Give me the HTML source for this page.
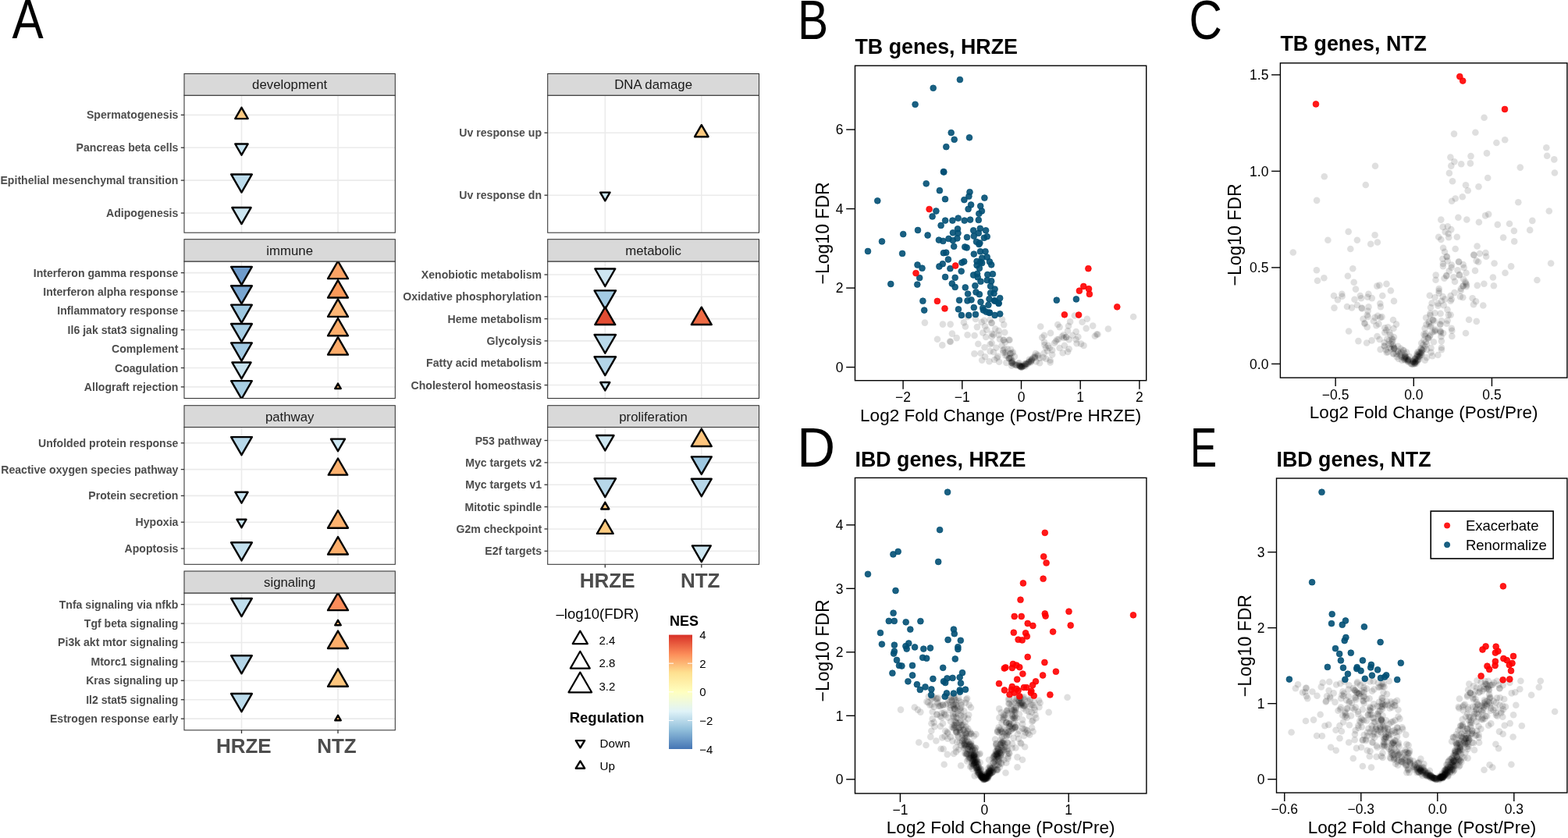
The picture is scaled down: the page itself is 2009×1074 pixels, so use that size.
<!DOCTYPE html>
<html><head><meta charset="utf-8"><title>Figure</title>
<style>html,body{margin:0;padding:0;background:#fff;}svg{display:block;}</style></head>
<body><svg width="2009" height="1074" viewBox="0 0 2009 1074">
<rect width="2009" height="1074" fill="#fff"/>
<g font-family="'Liberation Sans', Arial, Helvetica, sans-serif">
<clipPath id="cp1"><rect x="236" y="122.2" width="270.3" height="176"/></clipPath>
<rect x="236" y="122.2" width="270.3" height="176" fill="#fff"/>
<line x1="236" x2="506.3" y1="147.34" y2="147.34" stroke="#ebebeb" stroke-width="1.6"/>
<line x1="236" x2="506.3" y1="189.25" y2="189.25" stroke="#ebebeb" stroke-width="1.6"/>
<line x1="236" x2="506.3" y1="231.15" y2="231.15" stroke="#ebebeb" stroke-width="1.6"/>
<line x1="236" x2="506.3" y1="273.06" y2="273.06" stroke="#ebebeb" stroke-width="1.6"/>
<line x1="309.5" x2="309.5" y1="122.2" y2="298.2" stroke="#ebebeb" stroke-width="1.6"/>
<line x1="433" x2="433" y1="122.2" y2="298.2" stroke="#ebebeb" stroke-width="1.6"/>
<g clip-path="url(#cp1)" stroke="#000" stroke-width="2.4" stroke-linejoin="round">
<polygon points="309.5,137.87 317.7,152.08 301.3,152.08" fill="#fdc981"/>
<polygon points="309.5,198.72 317.7,184.51 301.3,184.51" fill="#c6e2ef"/>
<polygon points="309.5,246.57 322.85,223.44 296.15,223.44" fill="#bcdcec"/>
<polygon points="309.5,287.03 321.6,266.07 297.4,266.07" fill="#cde6f1"/>
</g>
<rect x="236" y="122.2" width="270.3" height="176" fill="none" stroke="#333" stroke-width="1.05"/>
<rect x="236" y="94.5" width="270.3" height="27.7" fill="#d9d9d9" stroke="#333" stroke-width="1.05"/>
<text x="371.15" y="114.35" font-size="16.8" text-anchor="middle" font-weight="normal" fill="#1a1a1a">development</text>
<line x1="231.8" x2="236" y1="147.34" y2="147.34" stroke="#333" stroke-width="1.3"/>
<text x="228.4" y="152.34" font-size="14.1" text-anchor="end" font-weight="bold" fill="#4d4d4d">Spermatogenesis</text>
<line x1="231.8" x2="236" y1="189.25" y2="189.25" stroke="#333" stroke-width="1.3"/>
<text x="228.4" y="194.25" font-size="14.1" text-anchor="end" font-weight="bold" fill="#4d4d4d">Pancreas beta cells</text>
<line x1="231.8" x2="236" y1="231.15" y2="231.15" stroke="#333" stroke-width="1.3"/>
<text x="228.4" y="236.15" font-size="14.1" text-anchor="end" font-weight="bold" fill="#4d4d4d">Epithelial mesenchymal transition</text>
<line x1="231.8" x2="236" y1="273.06" y2="273.06" stroke="#333" stroke-width="1.3"/>
<text x="228.4" y="278.06" font-size="14.1" text-anchor="end" font-weight="bold" fill="#4d4d4d">Adipogenesis</text>
<clipPath id="cp2"><rect x="236" y="335" width="270.3" height="175.5"/></clipPath>
<rect x="236" y="335" width="270.3" height="175.5" fill="#fff"/>
<line x1="236" x2="506.3" y1="349.62" y2="349.62" stroke="#ebebeb" stroke-width="1.6"/>
<line x1="236" x2="506.3" y1="374" y2="374" stroke="#ebebeb" stroke-width="1.6"/>
<line x1="236" x2="506.3" y1="398.38" y2="398.38" stroke="#ebebeb" stroke-width="1.6"/>
<line x1="236" x2="506.3" y1="422.75" y2="422.75" stroke="#ebebeb" stroke-width="1.6"/>
<line x1="236" x2="506.3" y1="447.12" y2="447.12" stroke="#ebebeb" stroke-width="1.6"/>
<line x1="236" x2="506.3" y1="471.5" y2="471.5" stroke="#ebebeb" stroke-width="1.6"/>
<line x1="236" x2="506.3" y1="495.88" y2="495.88" stroke="#ebebeb" stroke-width="1.6"/>
<line x1="309.5" x2="309.5" y1="335" y2="510.5" stroke="#ebebeb" stroke-width="1.6"/>
<line x1="433" x2="433" y1="335" y2="510.5" stroke="#ebebeb" stroke-width="1.6"/>
<g clip-path="url(#cp2)" stroke="#000" stroke-width="2.4" stroke-linejoin="round">
<polygon points="309.5,365.04 322.85,341.92 296.15,341.92" fill="#6e9bcb"/>
<polygon points="433,334.67 445.95,357.1 420.05,357.1" fill="#fda365"/>
<polygon points="309.5,389.41 322.85,366.29 296.15,366.29" fill="#78a5d0"/>
<polygon points="433,359.05 445.95,381.48 420.05,381.48" fill="#fc9a5a"/>
<polygon points="309.5,413.79 322.85,390.67 296.15,390.67" fill="#9dc7e0"/>
<polygon points="433,383.42 445.95,405.85 420.05,405.85" fill="#fdb676"/>
<polygon points="309.5,438.16 322.85,415.04 296.15,415.04" fill="#a6cde3"/>
<polygon points="433,407.8 445.95,430.23 420.05,430.23" fill="#fdae6c"/>
<polygon points="309.5,462.54 322.85,439.42 296.15,439.42" fill="#a1c9e2"/>
<polygon points="433,432.17 445.95,454.6 420.05,454.6" fill="#fdac6a"/>
<polygon points="309.5,485.47 321.6,464.51 297.4,464.51" fill="#c7e2ee"/>
<polygon points="309.5,511.29 322.85,488.17 296.15,488.17" fill="#a8cfe4"/>
<polygon points="433,491.55 436.75,498.04 429.25,498.04" fill="#fdbb74"/>
</g>
<rect x="236" y="335" width="270.3" height="175.5" fill="none" stroke="#333" stroke-width="1.05"/>
<rect x="236" y="306.7" width="270.3" height="28.3" fill="#d9d9d9" stroke="#333" stroke-width="1.05"/>
<text x="371.15" y="326.85" font-size="16.8" text-anchor="middle" font-weight="normal" fill="#1a1a1a">immune</text>
<line x1="231.8" x2="236" y1="349.62" y2="349.62" stroke="#333" stroke-width="1.3"/>
<text x="228.4" y="354.62" font-size="14.1" text-anchor="end" font-weight="bold" fill="#4d4d4d">Interferon gamma response</text>
<line x1="231.8" x2="236" y1="374" y2="374" stroke="#333" stroke-width="1.3"/>
<text x="228.4" y="379" font-size="14.1" text-anchor="end" font-weight="bold" fill="#4d4d4d">Interferon alpha response</text>
<line x1="231.8" x2="236" y1="398.38" y2="398.38" stroke="#333" stroke-width="1.3"/>
<text x="228.4" y="403.38" font-size="14.1" text-anchor="end" font-weight="bold" fill="#4d4d4d">Inflammatory response</text>
<line x1="231.8" x2="236" y1="422.75" y2="422.75" stroke="#333" stroke-width="1.3"/>
<text x="228.4" y="427.75" font-size="14.1" text-anchor="end" font-weight="bold" fill="#4d4d4d">Il6 jak stat3 signaling</text>
<line x1="231.8" x2="236" y1="447.12" y2="447.12" stroke="#333" stroke-width="1.3"/>
<text x="228.4" y="452.12" font-size="14.1" text-anchor="end" font-weight="bold" fill="#4d4d4d">Complement</text>
<line x1="231.8" x2="236" y1="471.5" y2="471.5" stroke="#333" stroke-width="1.3"/>
<text x="228.4" y="476.5" font-size="14.1" text-anchor="end" font-weight="bold" fill="#4d4d4d">Coagulation</text>
<line x1="231.8" x2="236" y1="495.88" y2="495.88" stroke="#333" stroke-width="1.3"/>
<text x="228.4" y="500.88" font-size="14.1" text-anchor="end" font-weight="bold" fill="#4d4d4d">Allograft rejection</text>
<clipPath id="cp3"><rect x="236" y="547.5" width="270.3" height="175.8"/></clipPath>
<rect x="236" y="547.5" width="270.3" height="175.8" fill="#fff"/>
<line x1="236" x2="506.3" y1="567.78" y2="567.78" stroke="#ebebeb" stroke-width="1.6"/>
<line x1="236" x2="506.3" y1="601.59" y2="601.59" stroke="#ebebeb" stroke-width="1.6"/>
<line x1="236" x2="506.3" y1="635.4" y2="635.4" stroke="#ebebeb" stroke-width="1.6"/>
<line x1="236" x2="506.3" y1="669.21" y2="669.21" stroke="#ebebeb" stroke-width="1.6"/>
<line x1="236" x2="506.3" y1="703.02" y2="703.02" stroke="#ebebeb" stroke-width="1.6"/>
<line x1="309.5" x2="309.5" y1="547.5" y2="723.3" stroke="#ebebeb" stroke-width="1.6"/>
<line x1="433" x2="433" y1="547.5" y2="723.3" stroke="#ebebeb" stroke-width="1.6"/>
<g clip-path="url(#cp3)" stroke="#000" stroke-width="2.4" stroke-linejoin="round">
<polygon points="309.5,583.2 322.85,560.08 296.15,560.08" fill="#b8d9ea"/>
<polygon points="433,578.18 442,562.59 424,562.59" fill="#cce6f1"/>
<polygon points="433,587.51 445.2,608.64 420.8,608.64" fill="#fdb26f"/>
<polygon points="309.5,644.75 317.6,630.72 301.4,630.72" fill="#c6e2ef"/>
<polygon points="309.5,676.14 315.5,665.74 303.5,665.74" fill="#c9e4f0"/>
<polygon points="433,654.25 445.95,676.68 420.05,676.68" fill="#fdb26f"/>
<polygon points="309.5,718.43 322.85,695.31 296.15,695.31" fill="#c3e0ee"/>
<polygon points="433,688.06 445.95,710.49 420.05,710.49" fill="#fdae6b"/>
</g>
<rect x="236" y="547.5" width="270.3" height="175.8" fill="none" stroke="#333" stroke-width="1.05"/>
<rect x="236" y="519.7" width="270.3" height="27.8" fill="#d9d9d9" stroke="#333" stroke-width="1.05"/>
<text x="371.15" y="539.6" font-size="16.8" text-anchor="middle" font-weight="normal" fill="#1a1a1a">pathway</text>
<line x1="231.8" x2="236" y1="567.78" y2="567.78" stroke="#333" stroke-width="1.3"/>
<text x="228.4" y="572.78" font-size="14.1" text-anchor="end" font-weight="bold" fill="#4d4d4d">Unfolded protein response</text>
<line x1="231.8" x2="236" y1="601.59" y2="601.59" stroke="#333" stroke-width="1.3"/>
<text x="228.4" y="606.59" font-size="14.1" text-anchor="end" font-weight="bold" fill="#4d4d4d">Reactive oxygen species pathway</text>
<line x1="231.8" x2="236" y1="635.4" y2="635.4" stroke="#333" stroke-width="1.3"/>
<text x="228.4" y="640.4" font-size="14.1" text-anchor="end" font-weight="bold" fill="#4d4d4d">Protein secretion</text>
<line x1="231.8" x2="236" y1="669.21" y2="669.21" stroke="#333" stroke-width="1.3"/>
<text x="228.4" y="674.21" font-size="14.1" text-anchor="end" font-weight="bold" fill="#4d4d4d">Hypoxia</text>
<line x1="231.8" x2="236" y1="703.02" y2="703.02" stroke="#333" stroke-width="1.3"/>
<text x="228.4" y="708.02" font-size="14.1" text-anchor="end" font-weight="bold" fill="#4d4d4d">Apoptosis</text>
<clipPath id="cp4"><rect x="236" y="760" width="270.3" height="175.8"/></clipPath>
<rect x="236" y="760" width="270.3" height="175.8" fill="#fff"/>
<line x1="236" x2="506.3" y1="774.65" y2="774.65" stroke="#ebebeb" stroke-width="1.6"/>
<line x1="236" x2="506.3" y1="799.07" y2="799.07" stroke="#ebebeb" stroke-width="1.6"/>
<line x1="236" x2="506.3" y1="823.48" y2="823.48" stroke="#ebebeb" stroke-width="1.6"/>
<line x1="236" x2="506.3" y1="847.9" y2="847.9" stroke="#ebebeb" stroke-width="1.6"/>
<line x1="236" x2="506.3" y1="872.32" y2="872.32" stroke="#ebebeb" stroke-width="1.6"/>
<line x1="236" x2="506.3" y1="896.73" y2="896.73" stroke="#ebebeb" stroke-width="1.6"/>
<line x1="236" x2="506.3" y1="921.15" y2="921.15" stroke="#ebebeb" stroke-width="1.6"/>
<line x1="309.5" x2="309.5" y1="760" y2="935.8" stroke="#ebebeb" stroke-width="1.6"/>
<line x1="433" x2="433" y1="760" y2="935.8" stroke="#ebebeb" stroke-width="1.6"/>
<g clip-path="url(#cp4)" stroke="#000" stroke-width="2.4" stroke-linejoin="round">
<polygon points="309.5,790.06 322.85,766.94 296.15,766.94" fill="#c0dfee"/>
<polygon points="433,759.7 445.95,782.13 420.05,782.13" fill="#fb8c5a"/>
<polygon points="433,794.74 436.75,801.23 429.25,801.23" fill="#fdb96f"/>
<polygon points="433,808.53 445.95,830.96 420.05,830.96" fill="#fdae6b"/>
<polygon points="309.5,863.31 322.85,840.19 296.15,840.19" fill="#b3d5e8"/>
<polygon points="433,857.36 445.95,879.79 420.05,879.79" fill="#fdc67e"/>
<polygon points="309.5,912.15 322.85,889.03 296.15,889.03" fill="#bcdcec"/>
<polygon points="433,916.82 436.75,923.32 429.25,923.32" fill="#fdbb74"/>
</g>
<rect x="236" y="760" width="270.3" height="175.8" fill="none" stroke="#333" stroke-width="1.05"/>
<rect x="236" y="732" width="270.3" height="28" fill="#d9d9d9" stroke="#333" stroke-width="1.05"/>
<text x="371.15" y="752" font-size="16.8" text-anchor="middle" font-weight="normal" fill="#1a1a1a">signaling</text>
<line x1="231.8" x2="236" y1="774.65" y2="774.65" stroke="#333" stroke-width="1.3"/>
<text x="228.4" y="779.65" font-size="14.1" text-anchor="end" font-weight="bold" fill="#4d4d4d">Tnfa signaling via nfkb</text>
<line x1="231.8" x2="236" y1="799.07" y2="799.07" stroke="#333" stroke-width="1.3"/>
<text x="228.4" y="804.07" font-size="14.1" text-anchor="end" font-weight="bold" fill="#4d4d4d">Tgf beta signaling</text>
<line x1="231.8" x2="236" y1="823.48" y2="823.48" stroke="#333" stroke-width="1.3"/>
<text x="228.4" y="828.48" font-size="14.1" text-anchor="end" font-weight="bold" fill="#4d4d4d">Pi3k akt mtor signaling</text>
<line x1="231.8" x2="236" y1="847.9" y2="847.9" stroke="#333" stroke-width="1.3"/>
<text x="228.4" y="852.9" font-size="14.1" text-anchor="end" font-weight="bold" fill="#4d4d4d">Mtorc1 signaling</text>
<line x1="231.8" x2="236" y1="872.32" y2="872.32" stroke="#333" stroke-width="1.3"/>
<text x="228.4" y="877.32" font-size="14.1" text-anchor="end" font-weight="bold" fill="#4d4d4d">Kras signaling up</text>
<line x1="231.8" x2="236" y1="896.73" y2="896.73" stroke="#333" stroke-width="1.3"/>
<text x="228.4" y="901.73" font-size="14.1" text-anchor="end" font-weight="bold" fill="#4d4d4d">Il2 stat5 signaling</text>
<line x1="231.8" x2="236" y1="921.15" y2="921.15" stroke="#333" stroke-width="1.3"/>
<text x="228.4" y="926.15" font-size="14.1" text-anchor="end" font-weight="bold" fill="#4d4d4d">Estrogen response early</text>
<line x1="309.5" x2="309.5" y1="935.8" y2="940" stroke="#333" stroke-width="1.3"/>
<text x="312.3" y="965.3" font-size="26" text-anchor="middle" font-weight="bold" fill="#4d4d4d">HRZE</text>
<line x1="433" x2="433" y1="935.8" y2="940" stroke="#333" stroke-width="1.3"/>
<text x="431.4" y="965.3" font-size="26" text-anchor="middle" font-weight="bold" fill="#4d4d4d">NTZ</text>
<clipPath id="cp5"><rect x="701.7" y="122.2" width="270.8" height="176"/></clipPath>
<rect x="701.7" y="122.2" width="270.8" height="176" fill="#fff"/>
<line x1="701.7" x2="972.5" y1="170.2" y2="170.2" stroke="#ebebeb" stroke-width="1.6"/>
<line x1="701.7" x2="972.5" y1="250.2" y2="250.2" stroke="#ebebeb" stroke-width="1.6"/>
<line x1="775.3" x2="775.3" y1="122.2" y2="298.2" stroke="#ebebeb" stroke-width="1.6"/>
<line x1="898.8" x2="898.8" y1="122.2" y2="298.2" stroke="#ebebeb" stroke-width="1.6"/>
<g clip-path="url(#cp5)" stroke="#000" stroke-width="2.4" stroke-linejoin="round">
<polygon points="898.8,160.15 907.5,175.22 890.1,175.22" fill="#fdc97f"/>
<polygon points="775.3,257.36 781.5,246.62 769.1,246.62" fill="#cde8f2"/>
</g>
<rect x="701.7" y="122.2" width="270.8" height="176" fill="none" stroke="#333" stroke-width="1.05"/>
<rect x="701.7" y="94.5" width="270.8" height="27.7" fill="#d9d9d9" stroke="#333" stroke-width="1.05"/>
<text x="837.1" y="114.35" font-size="16.8" text-anchor="middle" font-weight="normal" fill="#1a1a1a">DNA damage</text>
<line x1="697.5" x2="701.7" y1="170.2" y2="170.2" stroke="#333" stroke-width="1.3"/>
<text x="694.1" y="175.2" font-size="14.1" text-anchor="end" font-weight="bold" fill="#4d4d4d">Uv response up</text>
<line x1="697.5" x2="701.7" y1="250.2" y2="250.2" stroke="#333" stroke-width="1.3"/>
<text x="694.1" y="255.2" font-size="14.1" text-anchor="end" font-weight="bold" fill="#4d4d4d">Uv response dn</text>
<clipPath id="cp6"><rect x="701.7" y="335" width="270.8" height="175.5"/></clipPath>
<rect x="701.7" y="335" width="270.8" height="175.5" fill="#fff"/>
<line x1="701.7" x2="972.5" y1="351.98" y2="351.98" stroke="#ebebeb" stroke-width="1.6"/>
<line x1="701.7" x2="972.5" y1="380.29" y2="380.29" stroke="#ebebeb" stroke-width="1.6"/>
<line x1="701.7" x2="972.5" y1="408.6" y2="408.6" stroke="#ebebeb" stroke-width="1.6"/>
<line x1="701.7" x2="972.5" y1="436.9" y2="436.9" stroke="#ebebeb" stroke-width="1.6"/>
<line x1="701.7" x2="972.5" y1="465.21" y2="465.21" stroke="#ebebeb" stroke-width="1.6"/>
<line x1="701.7" x2="972.5" y1="493.52" y2="493.52" stroke="#ebebeb" stroke-width="1.6"/>
<line x1="775.3" x2="775.3" y1="335" y2="510.5" stroke="#ebebeb" stroke-width="1.6"/>
<line x1="898.8" x2="898.8" y1="335" y2="510.5" stroke="#ebebeb" stroke-width="1.6"/>
<g clip-path="url(#cp6)" stroke="#000" stroke-width="2.4" stroke-linejoin="round">
<polygon points="775.3,366.94 788.25,344.51 762.35,344.51" fill="#cde5f1"/>
<polygon points="775.3,396.11 789,372.38 761.6,372.38" fill="#a3cbe3"/>
<polygon points="775.3,393.64 788.25,416.07 762.35,416.07" fill="#e34d33"/>
<polygon points="898.8,393.64 911.75,416.07 885.85,416.07" fill="#ee6b45"/>
<polygon points="775.3,452.72 789,428.99 761.6,428.99" fill="#b9d9ea"/>
<polygon points="775.3,481.03 789,457.3 761.6,457.3" fill="#b3d5e8"/>
<polygon points="775.3,500.44 781.3,490.05 769.3,490.05" fill="#cce6f1"/>
</g>
<rect x="701.7" y="335" width="270.8" height="175.5" fill="none" stroke="#333" stroke-width="1.05"/>
<rect x="701.7" y="306.7" width="270.8" height="28.3" fill="#d9d9d9" stroke="#333" stroke-width="1.05"/>
<text x="837.1" y="326.85" font-size="16.8" text-anchor="middle" font-weight="normal" fill="#1a1a1a">metabolic</text>
<line x1="697.5" x2="701.7" y1="351.98" y2="351.98" stroke="#333" stroke-width="1.3"/>
<text x="694.1" y="356.98" font-size="14.1" text-anchor="end" font-weight="bold" fill="#4d4d4d">Xenobiotic metabolism</text>
<line x1="697.5" x2="701.7" y1="380.29" y2="380.29" stroke="#333" stroke-width="1.3"/>
<text x="694.1" y="385.29" font-size="14.1" text-anchor="end" font-weight="bold" fill="#4d4d4d">Oxidative phosphorylation</text>
<line x1="697.5" x2="701.7" y1="408.6" y2="408.6" stroke="#333" stroke-width="1.3"/>
<text x="694.1" y="413.6" font-size="14.1" text-anchor="end" font-weight="bold" fill="#4d4d4d">Heme metabolism</text>
<line x1="697.5" x2="701.7" y1="436.9" y2="436.9" stroke="#333" stroke-width="1.3"/>
<text x="694.1" y="441.9" font-size="14.1" text-anchor="end" font-weight="bold" fill="#4d4d4d">Glycolysis</text>
<line x1="697.5" x2="701.7" y1="465.21" y2="465.21" stroke="#333" stroke-width="1.3"/>
<text x="694.1" y="470.21" font-size="14.1" text-anchor="end" font-weight="bold" fill="#4d4d4d">Fatty acid metabolism</text>
<line x1="697.5" x2="701.7" y1="493.52" y2="493.52" stroke="#333" stroke-width="1.3"/>
<text x="694.1" y="498.52" font-size="14.1" text-anchor="end" font-weight="bold" fill="#4d4d4d">Cholesterol homeostasis</text>
<clipPath id="cp7"><rect x="701.7" y="547.5" width="270.8" height="175.8"/></clipPath>
<rect x="701.7" y="547.5" width="270.8" height="175.8" fill="#fff"/>
<line x1="701.7" x2="972.5" y1="564.51" y2="564.51" stroke="#ebebeb" stroke-width="1.6"/>
<line x1="701.7" x2="972.5" y1="592.87" y2="592.87" stroke="#ebebeb" stroke-width="1.6"/>
<line x1="701.7" x2="972.5" y1="621.22" y2="621.22" stroke="#ebebeb" stroke-width="1.6"/>
<line x1="701.7" x2="972.5" y1="649.58" y2="649.58" stroke="#ebebeb" stroke-width="1.6"/>
<line x1="701.7" x2="972.5" y1="677.93" y2="677.93" stroke="#ebebeb" stroke-width="1.6"/>
<line x1="701.7" x2="972.5" y1="706.29" y2="706.29" stroke="#ebebeb" stroke-width="1.6"/>
<line x1="775.3" x2="775.3" y1="547.5" y2="723.3" stroke="#ebebeb" stroke-width="1.6"/>
<line x1="898.8" x2="898.8" y1="547.5" y2="723.3" stroke="#ebebeb" stroke-width="1.6"/>
<g clip-path="url(#cp7)" stroke="#000" stroke-width="2.4" stroke-linejoin="round">
<polygon points="775.3,577.45 786.5,558.05 764.1,558.05" fill="#cde6f1"/>
<polygon points="898.8,549.56 911.75,571.99 885.85,571.99" fill="#fec57d"/>
<polygon points="898.8,607.82 911.75,585.39 885.85,585.39" fill="#9ec8e1"/>
<polygon points="775.3,637.04 789,613.31 761.6,613.31" fill="#b7d7e9"/>
<polygon points="898.8,636.18 911.75,613.75 885.85,613.75" fill="#b6d7e9"/>
<polygon points="775.3,643.8 780.3,652.46 770.3,652.46" fill="#fdc97f"/>
<polygon points="775.3,665.98 785.65,683.91 764.95,683.91" fill="#fecb80"/>
<polygon points="898.8,720.09 910.75,699.39 886.85,699.39" fill="#cde6f1"/>
</g>
<rect x="701.7" y="547.5" width="270.8" height="175.8" fill="none" stroke="#333" stroke-width="1.05"/>
<rect x="701.7" y="519.7" width="270.8" height="27.8" fill="#d9d9d9" stroke="#333" stroke-width="1.05"/>
<text x="837.1" y="539.6" font-size="16.8" text-anchor="middle" font-weight="normal" fill="#1a1a1a">proliferation</text>
<line x1="697.5" x2="701.7" y1="564.51" y2="564.51" stroke="#333" stroke-width="1.3"/>
<text x="694.1" y="569.51" font-size="14.1" text-anchor="end" font-weight="bold" fill="#4d4d4d">P53 pathway</text>
<line x1="697.5" x2="701.7" y1="592.87" y2="592.87" stroke="#333" stroke-width="1.3"/>
<text x="694.1" y="597.87" font-size="14.1" text-anchor="end" font-weight="bold" fill="#4d4d4d">Myc targets v2</text>
<line x1="697.5" x2="701.7" y1="621.22" y2="621.22" stroke="#333" stroke-width="1.3"/>
<text x="694.1" y="626.22" font-size="14.1" text-anchor="end" font-weight="bold" fill="#4d4d4d">Myc targets v1</text>
<line x1="697.5" x2="701.7" y1="649.58" y2="649.58" stroke="#333" stroke-width="1.3"/>
<text x="694.1" y="654.58" font-size="14.1" text-anchor="end" font-weight="bold" fill="#4d4d4d">Mitotic spindle</text>
<line x1="697.5" x2="701.7" y1="677.93" y2="677.93" stroke="#333" stroke-width="1.3"/>
<text x="694.1" y="682.93" font-size="14.1" text-anchor="end" font-weight="bold" fill="#4d4d4d">G2m checkpoint</text>
<line x1="697.5" x2="701.7" y1="706.29" y2="706.29" stroke="#333" stroke-width="1.3"/>
<text x="694.1" y="711.29" font-size="14.1" text-anchor="end" font-weight="bold" fill="#4d4d4d">E2f targets</text>
<line x1="775.3" x2="775.3" y1="723.3" y2="727.5" stroke="#333" stroke-width="1.3"/>
<text x="778.1" y="752.8" font-size="26" text-anchor="middle" font-weight="bold" fill="#4d4d4d">HRZE</text>
<line x1="898.8" x2="898.8" y1="723.3" y2="727.5" stroke="#333" stroke-width="1.3"/>
<text x="897.2" y="752.8" font-size="26" text-anchor="middle" font-weight="bold" fill="#4d4d4d">NTZ</text>
<text x="712.5" y="793.3" font-size="18.5" text-anchor="start" font-weight="normal" fill="#000">&#8211;log10(FDR)</text>
<polygon points="743.3,808.6 752.9,825.1 733.7,825.1" fill="none" stroke="#000" stroke-width="2.2" stroke-linejoin="round"/>
<text x="767.5" y="825.6" font-size="15" text-anchor="start" font-weight="normal" fill="#000">2.4</text>
<polygon points="743.3,834.8 755.8,856.6 730.8,856.6" fill="none" stroke="#000" stroke-width="2.2" stroke-linejoin="round"/>
<text x="767.5" y="854.9" font-size="15" text-anchor="start" font-weight="normal" fill="#000">2.8</text>
<polygon points="743.3,861.6 758.1,887.3 728.5,887.3" fill="none" stroke="#000" stroke-width="2.2" stroke-linejoin="round"/>
<text x="767.5" y="884.5" font-size="15" text-anchor="start" font-weight="normal" fill="#000">3.2</text>
<text x="729.7" y="925.8" font-size="18.5" text-anchor="start" font-weight="bold" fill="#000">Regulation</text>
<polygon points="743.45,958.3 749.1,949.1 737.8,949.1" fill="none" stroke="#000" stroke-width="2.4" stroke-linejoin="round"/>
<text x="768.5" y="957.9" font-size="15.2" text-anchor="start" font-weight="normal" fill="#000">Down</text>
<polygon points="743.45,975.4 749.1,984.7 737.8,984.7" fill="none" stroke="#000" stroke-width="2.4" stroke-linejoin="round"/>
<text x="768.5" y="986.9" font-size="15.2" text-anchor="start" font-weight="normal" fill="#000">Up</text>
<text x="858" y="801.7" font-size="18" text-anchor="start" font-weight="bold" fill="#000">NES</text>
<defs><linearGradient id="nes" x1="0" y1="1" x2="0" y2="0">
<stop offset="0" stop-color="#4575b4"/>
<stop offset="0.17" stop-color="#91bfdb"/>
<stop offset="0.33" stop-color="#e0f3f8"/>
<stop offset="0.5" stop-color="#ffffbf"/>
<stop offset="0.67" stop-color="#fee090"/>
<stop offset="0.83" stop-color="#fc8d59"/>
<stop offset="1" stop-color="#d73027"/>
</linearGradient></defs>
<rect x="857" y="813.6" width="30" height="146.4" fill="url(#nes)"/>
<text x="896.3" y="819.1" font-size="15" text-anchor="start" font-weight="normal" fill="#000">4</text>
<line x1="857" x2="863" y1="850.2" y2="850.2" stroke="#fff" stroke-width="1"/>
<line x1="881" x2="887" y1="850.2" y2="850.2" stroke="#fff" stroke-width="1"/>
<text x="896.3" y="855.7" font-size="15" text-anchor="start" font-weight="normal" fill="#000">2</text>
<line x1="857" x2="863" y1="886.8" y2="886.8" stroke="#fff" stroke-width="1"/>
<line x1="881" x2="887" y1="886.8" y2="886.8" stroke="#fff" stroke-width="1"/>
<text x="896.3" y="892.3" font-size="15" text-anchor="start" font-weight="normal" fill="#000">0</text>
<line x1="857" x2="863" y1="923.4" y2="923.4" stroke="#fff" stroke-width="1"/>
<line x1="881" x2="887" y1="923.4" y2="923.4" stroke="#fff" stroke-width="1"/>
<text x="896.3" y="928.9" font-size="15" text-anchor="start" font-weight="normal" fill="#000">&#8722;2</text>
<text x="896.3" y="965.5" font-size="15" text-anchor="start" font-weight="normal" fill="#000">&#8722;4</text>
</g>
<text x="0" y="0" font-size="69.8" font-family="'Liberation Sans', Arial, Helvetica, sans-serif" transform="translate(15.6 49.4) scale(0.863 1)">A</text>
<text x="0" y="0" font-size="70.6" font-family="'Liberation Sans', Arial, Helvetica, sans-serif" transform="translate(1022 49.7) scale(0.832 1)">B</text>
<text x="0" y="0" font-size="69.5" font-family="'Liberation Sans', Arial, Helvetica, sans-serif" transform="translate(1523.4 49.6) scale(0.844 1)">C</text>
<text x="0" y="0" font-size="69.9" font-family="'Liberation Sans', Arial, Helvetica, sans-serif" transform="translate(1021.3 597.9) scale(0.968 1)">D</text>
<text x="0" y="0" font-size="69.6" font-family="'Liberation Sans', Arial, Helvetica, sans-serif" transform="translate(1525 597.7) scale(0.735 1)">E</text>
<g font-family="'Liberation Sans', Arial, Helvetica, sans-serif">
<clipPath id="vpB"><rect x="1095.5" y="84.2" width="373.2" height="403.5"/></clipPath>
<g clip-path="url(#vpB)">
<g fill="#000" fill-opacity="0.125">
<circle cx="1184.9" cy="413.6" r="4.3"/>
<circle cx="1207.9" cy="415.6" r="4.3"/>
<circle cx="1217.7" cy="415.6" r="4.3"/>
<circle cx="1234.9" cy="413.4" r="4.3"/>
<circle cx="1236.9" cy="418.5" r="4.3"/>
<circle cx="1219.9" cy="427.6" r="4.3"/>
<circle cx="1225.7" cy="433.1" r="4.3"/>
<circle cx="1201" cy="434.8" r="4.3"/>
<circle cx="1217.2" cy="437.5" r="4.3"/>
<circle cx="1217.8" cy="438" r="4.3"/>
<circle cx="1207.3" cy="442.4" r="4.3"/>
<circle cx="1239.6" cy="429.3" r="4.3"/>
<circle cx="1248.6" cy="430" r="4.3"/>
<circle cx="1251.9" cy="419.1" r="4.3"/>
<circle cx="1250" cy="409" r="4.3"/>
<circle cx="1257.7" cy="412.9" r="4.3"/>
<circle cx="1261" cy="410.7" r="4.3"/>
<circle cx="1262.1" cy="418.3" r="4.3"/>
<circle cx="1259.3" cy="426.5" r="4.3"/>
<circle cx="1264.3" cy="422.7" r="4.3"/>
<circle cx="1263.2" cy="432" r="4.3"/>
<circle cx="1268.6" cy="409.6" r="4.3"/>
<circle cx="1270.8" cy="414" r="4.3"/>
<circle cx="1275.2" cy="421.6" r="4.3"/>
<circle cx="1279.6" cy="423.8" r="4.3"/>
<circle cx="1279.6" cy="429.3" r="4.3"/>
<circle cx="1270.8" cy="431.5" r="4.3"/>
<circle cx="1284" cy="409.6" r="4.3"/>
<circle cx="1286.2" cy="416.1" r="4.3"/>
<circle cx="1287.3" cy="426" r="4.3"/>
<circle cx="1286.2" cy="435.8" r="4.3"/>
<circle cx="1287.8" cy="438.6" r="4.3"/>
<circle cx="1292.7" cy="435.8" r="4.3"/>
<circle cx="1270.8" cy="439.7" r="4.3"/>
<circle cx="1268.6" cy="441.3" r="4.3"/>
<circle cx="1253.3" cy="440.8" r="4.3"/>
<circle cx="1261.5" cy="445.2" r="4.3"/>
<circle cx="1276.3" cy="445.7" r="4.3"/>
<circle cx="1268.6" cy="450.1" r="4.3"/>
<circle cx="1273" cy="451.2" r="4.3"/>
<circle cx="1285.1" cy="449" r="4.3"/>
<circle cx="1288.3" cy="455.6" r="4.3"/>
<circle cx="1294.4" cy="452.8" r="4.3"/>
<circle cx="1278.5" cy="456.7" r="4.3"/>
<circle cx="1277.4" cy="458.8" r="4.3"/>
<circle cx="1248.4" cy="453.4" r="4.3"/>
<circle cx="1256.6" cy="452.8" r="4.3"/>
<circle cx="1262.1" cy="457.2" r="4.3"/>
<circle cx="1258.2" cy="461.6" r="4.3"/>
<circle cx="1267.5" cy="463.2" r="4.3"/>
<circle cx="1274.1" cy="461" r="4.3"/>
<circle cx="1280.1" cy="463.8" r="4.3"/>
<circle cx="1289.4" cy="464.9" r="4.3"/>
<circle cx="1296" cy="464.9" r="4.3"/>
<circle cx="1297" cy="465.5" r="4.3"/>
<circle cx="1298" cy="466.5" r="4.3"/>
<circle cx="1300" cy="467" r="4.3"/>
<circle cx="1303" cy="468" r="4.3"/>
<circle cx="1305.9" cy="468.7" r="4.3"/>
<circle cx="1307" cy="469.5" r="4.3"/>
<circle cx="1309.2" cy="469.8" r="4.3"/>
<circle cx="1311" cy="469.3" r="4.3"/>
<circle cx="1313" cy="468" r="4.3"/>
<circle cx="1317.9" cy="464.3" r="4.3"/>
<circle cx="1376.9" cy="404.5" r="4.3"/>
<circle cx="1392.9" cy="408.8" r="4.3"/>
<circle cx="1452.2" cy="406" r="4.3"/>
<circle cx="1371.1" cy="412.4" r="4.3"/>
<circle cx="1386.6" cy="412.8" r="4.3"/>
<circle cx="1400.2" cy="417.6" r="4.3"/>
<circle cx="1419.9" cy="421.5" r="4.3"/>
<circle cx="1391.7" cy="420.9" r="4.3"/>
<circle cx="1355.2" cy="416" r="4.3"/>
<circle cx="1357.6" cy="419.1" r="4.3"/>
<circle cx="1369" cy="417.8" r="4.3"/>
<circle cx="1333.2" cy="418.5" r="4.3"/>
<circle cx="1368" cy="424" r="4.3"/>
<circle cx="1378.7" cy="425" r="4.3"/>
<circle cx="1405.1" cy="428.5" r="4.3"/>
<circle cx="1402.9" cy="430.8" r="4.3"/>
<circle cx="1406.5" cy="428.5" r="4.3"/>
<circle cx="1346" cy="426.9" r="4.3"/>
<circle cx="1337.9" cy="429.9" r="4.3"/>
<circle cx="1335.2" cy="432.6" r="4.3"/>
<circle cx="1362.6" cy="429.4" r="4.3"/>
<circle cx="1360.8" cy="431.2" r="4.3"/>
<circle cx="1366.2" cy="432.1" r="4.3"/>
<circle cx="1374.2" cy="429.9" r="4.3"/>
<circle cx="1381.4" cy="431.7" r="4.3"/>
<circle cx="1369.7" cy="435.2" r="4.3"/>
<circle cx="1378.7" cy="435.2" r="4.3"/>
<circle cx="1379.6" cy="440.2" r="4.3"/>
<circle cx="1385" cy="440.6" r="4.3"/>
<circle cx="1388.6" cy="442.9" r="4.3"/>
<circle cx="1356.3" cy="434.8" r="4.3"/>
<circle cx="1352.7" cy="437.5" r="4.3"/>
<circle cx="1350.9" cy="439.7" r="4.3"/>
<circle cx="1338.4" cy="442" r="4.3"/>
<circle cx="1342.9" cy="442.9" r="4.3"/>
<circle cx="1344.7" cy="446" r="4.3"/>
<circle cx="1348.2" cy="448.7" r="4.3"/>
<circle cx="1342" cy="449.6" r="4.3"/>
<circle cx="1357.6" cy="446" r="4.3"/>
<circle cx="1363.9" cy="442.9" r="4.3"/>
<circle cx="1369.7" cy="447.3" r="4.3"/>
<circle cx="1368" cy="450.9" r="4.3"/>
<circle cx="1361.7" cy="452.3" r="4.3"/>
<circle cx="1348.2" cy="454.5" r="4.3"/>
<circle cx="1293.6" cy="435.7" r="4.3"/>
<circle cx="1294.5" cy="453.2" r="4.3"/>
<circle cx="1290" cy="455.4" r="4.3"/>
<circle cx="1337.5" cy="452.7" r="4.3"/>
<circle cx="1329.4" cy="454.5" r="4.3"/>
<circle cx="1324" cy="458.1" r="4.3"/>
<circle cx="1318.7" cy="460.8" r="4.3"/>
<circle cx="1320.5" cy="464.4" r="4.3"/>
<circle cx="1316.9" cy="466.2" r="4.3"/>
<circle cx="1332.1" cy="459" r="4.3"/>
<circle cx="1336.6" cy="458.1" r="4.3"/>
<circle cx="1340.2" cy="459.9" r="4.3"/>
<circle cx="1345.6" cy="461.7" r="4.3"/>
<circle cx="1345.6" cy="464.4" r="4.3"/>
<circle cx="1332.1" cy="465.3" r="4.3"/>
<circle cx="1327.6" cy="463.5" r="4.3"/>
<circle cx="1296.3" cy="464.4" r="4.3"/>
<circle cx="1307" cy="468.8" r="4.3"/>
<circle cx="1308.8" cy="470.6" r="4.3"/>
<circle cx="1312.4" cy="468.8" r="4.3"/>
<circle cx="1322" cy="461" r="4.3"/>
<circle cx="1326" cy="458" r="4.3"/>
<circle cx="1330" cy="456" r="4.3"/>
<circle cx="1307.2" cy="469.2" r="4.3"/>
<circle cx="1288.2" cy="451.7" r="4.3"/>
<circle cx="1304.9" cy="466.4" r="4.3"/>
<circle cx="1308.2" cy="470" r="4.3"/>
<circle cx="1305.7" cy="465.1" r="4.3"/>
<circle cx="1295.4" cy="459.1" r="4.3"/>
<circle cx="1296.2" cy="468.6" r="4.3"/>
<circle cx="1272.8" cy="428.9" r="4.3"/>
<circle cx="1294.5" cy="458.5" r="4.3"/>
<circle cx="1296.4" cy="462.4" r="4.3"/>
<circle cx="1239.7" cy="406" r="4.3"/>
<circle cx="1292.8" cy="459.3" r="4.3"/>
<circle cx="1285.5" cy="435.7" r="4.3"/>
<circle cx="1270.9" cy="427.7" r="4.3"/>
<circle cx="1295.1" cy="447.7" r="4.3"/>
<circle cx="1270.4" cy="413.9" r="4.3"/>
<circle cx="1285.5" cy="451.8" r="4.3"/>
<circle cx="1297.5" cy="463.4" r="4.3"/>
<circle cx="1305.6" cy="468.2" r="4.3"/>
<circle cx="1297.9" cy="451.6" r="4.3"/>
<circle cx="1308.7" cy="470.5" r="4.3"/>
<circle cx="1283.6" cy="442.9" r="4.3"/>
<circle cx="1301.3" cy="467.9" r="4.3"/>
<circle cx="1293" cy="459.6" r="4.3"/>
<circle cx="1296.6" cy="452.5" r="4.3"/>
<circle cx="1286.9" cy="447.4" r="4.3"/>
<circle cx="1292.9" cy="459" r="4.3"/>
<circle cx="1296.6" cy="464.6" r="4.3"/>
<circle cx="1280.9" cy="434.7" r="4.3"/>
<circle cx="1299.9" cy="456.9" r="4.3"/>
<circle cx="1290.8" cy="447.4" r="4.3"/>
<circle cx="1302.4" cy="468.2" r="4.3"/>
<circle cx="1314.4" cy="467" r="4.3"/>
<circle cx="1319.2" cy="462.7" r="4.3"/>
<circle cx="1354.3" cy="435.3" r="4.3"/>
<circle cx="1325.8" cy="456.3" r="4.3"/>
<circle cx="1320.7" cy="462.9" r="4.3"/>
<circle cx="1309.2" cy="470.5" r="4.3"/>
<circle cx="1313.8" cy="469.5" r="4.3"/>
<circle cx="1321.7" cy="461.6" r="4.3"/>
<circle cx="1312.8" cy="466.2" r="4.3"/>
<circle cx="1307.2" cy="470.1" r="4.3"/>
<circle cx="1325.9" cy="458.4" r="4.3"/>
<circle cx="1314.9" cy="465.9" r="4.3"/>
<circle cx="1338" cy="438.5" r="4.3"/>
<circle cx="1340" cy="445.7" r="4.3"/>
<circle cx="1313.8" cy="466.4" r="4.3"/>
<circle cx="1326.8" cy="453" r="4.3"/>
<circle cx="1309.2" cy="468.9" r="4.3"/>
<circle cx="1315.7" cy="466.5" r="4.3"/>
<circle cx="1310.5" cy="469.5" r="4.3"/>
<circle cx="1363" cy="433" r="4.3"/>
<circle cx="1318.2" cy="464.1" r="4.3"/>
<circle cx="1321" cy="463.3" r="4.3"/>
<circle cx="1322.3" cy="459.9" r="4.3"/>
<circle cx="1366" cy="432.1" r="4.3"/>
</g>
<g fill="#014f74" fill-opacity="0.9" stroke="#014f74" stroke-opacity="0.9" stroke-width="0.8">
<circle cx="1229.9" cy="102.1" r="3.9"/>
<circle cx="1195.7" cy="112.8" r="3.9"/>
<circle cx="1172.6" cy="133.8" r="3.9"/>
<circle cx="1218.7" cy="170.1" r="3.9"/>
<circle cx="1222.7" cy="178.8" r="3.9"/>
<circle cx="1242" cy="176.3" r="3.9"/>
<circle cx="1212.3" cy="188.2" r="3.9"/>
<circle cx="1208.9" cy="220.1" r="3.9"/>
<circle cx="1209.3" cy="220.5" r="3.9"/>
<circle cx="1186.7" cy="235.3" r="3.9"/>
<circle cx="1203.9" cy="244.2" r="3.9"/>
<circle cx="1242.5" cy="246.2" r="3.9"/>
<circle cx="1241.4" cy="251.6" r="3.9"/>
<circle cx="1261.4" cy="253.6" r="3.9"/>
<circle cx="1124.3" cy="257.3" r="3.9"/>
<circle cx="1211" cy="255.2" r="3.9"/>
<circle cx="1235.4" cy="256.1" r="3.9"/>
<circle cx="1244.1" cy="262.5" r="3.9"/>
<circle cx="1256.2" cy="264.1" r="3.9"/>
<circle cx="1199.4" cy="270.5" r="3.9"/>
<circle cx="1194.6" cy="277.4" r="3.9"/>
<circle cx="1240.6" cy="267.9" r="3.9"/>
<circle cx="1257.9" cy="270.5" r="3.9"/>
<circle cx="1254.3" cy="273.8" r="3.9"/>
<circle cx="1211.1" cy="282.6" r="3.9"/>
<circle cx="1220.4" cy="282.6" r="3.9"/>
<circle cx="1227.7" cy="279.6" r="3.9"/>
<circle cx="1235.7" cy="282.6" r="3.9"/>
<circle cx="1243.1" cy="281.6" r="3.9"/>
<circle cx="1253.8" cy="281.9" r="3.9"/>
<circle cx="1205.6" cy="288.9" r="3.9"/>
<circle cx="1176" cy="295" r="3.9"/>
<circle cx="1157.2" cy="300.1" r="3.9"/>
<circle cx="1188.6" cy="301.5" r="3.9"/>
<circle cx="1130" cy="309.4" r="3.9"/>
<circle cx="1112" cy="322" r="3.9"/>
<circle cx="1156.1" cy="324.9" r="3.9"/>
<circle cx="1227" cy="293.3" r="3.9"/>
<circle cx="1220.9" cy="298.3" r="3.9"/>
<circle cx="1227.5" cy="298.8" r="3.9"/>
<circle cx="1226.4" cy="305.4" r="3.9"/>
<circle cx="1215.5" cy="305.9" r="3.9"/>
<circle cx="1220.9" cy="308.1" r="3.9"/>
<circle cx="1202.9" cy="307.6" r="3.9"/>
<circle cx="1208.3" cy="308.9" r="3.9"/>
<circle cx="1222.2" cy="315.8" r="3.9"/>
<circle cx="1239" cy="304.1" r="3.9"/>
<circle cx="1236.3" cy="316.5" r="3.9"/>
<circle cx="1238.7" cy="317.4" r="3.9"/>
<circle cx="1247.2" cy="295.3" r="3.9"/>
<circle cx="1255.8" cy="292.8" r="3.9"/>
<circle cx="1263.1" cy="295.3" r="3.9"/>
<circle cx="1253.8" cy="298.8" r="3.9"/>
<circle cx="1247.8" cy="302.6" r="3.9"/>
<circle cx="1260.9" cy="304.8" r="3.9"/>
<circle cx="1264.7" cy="303.2" r="3.9"/>
<circle cx="1251" cy="309.8" r="3.9"/>
<circle cx="1255.4" cy="311.4" r="3.9"/>
<circle cx="1254.3" cy="313" r="3.9"/>
<circle cx="1208.9" cy="324.2" r="3.9"/>
<circle cx="1212.2" cy="323.7" r="3.9"/>
<circle cx="1247.8" cy="325.6" r="3.9"/>
<circle cx="1256" cy="322.3" r="3.9"/>
<circle cx="1262.5" cy="322.3" r="3.9"/>
<circle cx="1214.9" cy="332.5" r="3.9"/>
<circle cx="1264.7" cy="329.5" r="3.9"/>
<circle cx="1258.2" cy="330.6" r="3.9"/>
<circle cx="1235.2" cy="335.2" r="3.9"/>
<circle cx="1232.4" cy="336.6" r="3.9"/>
<circle cx="1251.6" cy="334.9" r="3.9"/>
<circle cx="1256" cy="336" r="3.9"/>
<circle cx="1268" cy="335.5" r="3.9"/>
<circle cx="1270.2" cy="339.3" r="3.9"/>
<circle cx="1251.6" cy="339.9" r="3.9"/>
<circle cx="1258.2" cy="337.1" r="3.9"/>
<circle cx="1175.5" cy="339.5" r="3.9"/>
<circle cx="1181.5" cy="343.7" r="3.9"/>
<circle cx="1207.8" cy="338.2" r="3.9"/>
<circle cx="1203.4" cy="341.5" r="3.9"/>
<circle cx="1217.4" cy="344.2" r="3.9"/>
<circle cx="1178.2" cy="356.1" r="3.9"/>
<circle cx="1175.3" cy="364.6" r="3.9"/>
<circle cx="1141.3" cy="364" r="3.9"/>
<circle cx="1231.7" cy="347.6" r="3.9"/>
<circle cx="1211.1" cy="355" r="3.9"/>
<circle cx="1223.7" cy="355.8" r="3.9"/>
<circle cx="1219.8" cy="363.5" r="3.9"/>
<circle cx="1223.7" cy="367.9" r="3.9"/>
<circle cx="1236.8" cy="368.4" r="3.9"/>
<circle cx="1240.1" cy="376.6" r="3.9"/>
<circle cx="1249.4" cy="366.2" r="3.9"/>
<circle cx="1250.5" cy="374.4" r="3.9"/>
<circle cx="1254.9" cy="377.2" r="3.9"/>
<circle cx="1247.2" cy="352.5" r="3.9"/>
<circle cx="1252.1" cy="350.9" r="3.9"/>
<circle cx="1252.7" cy="355.3" r="3.9"/>
<circle cx="1256.5" cy="360.7" r="3.9"/>
<circle cx="1254.9" cy="343.8" r="3.9"/>
<circle cx="1265.3" cy="352" r="3.9"/>
<circle cx="1271.9" cy="351.2" r="3.9"/>
<circle cx="1264.7" cy="359.1" r="3.9"/>
<circle cx="1270.2" cy="360.2" r="3.9"/>
<circle cx="1269.1" cy="366.8" r="3.9"/>
<circle cx="1274.6" cy="370.6" r="3.9"/>
<circle cx="1269.1" cy="375.5" r="3.9"/>
<circle cx="1273.5" cy="376.1" r="3.9"/>
<circle cx="1267.5" cy="383.2" r="3.9"/>
<circle cx="1274.6" cy="385.4" r="3.9"/>
<circle cx="1281.2" cy="382.1" r="3.9"/>
<circle cx="1279.5" cy="388.7" r="3.9"/>
<circle cx="1256.5" cy="387" r="3.9"/>
<circle cx="1266.4" cy="390.8" r="3.9"/>
<circle cx="1247.8" cy="394.1" r="3.9"/>
<circle cx="1259.3" cy="394.7" r="3.9"/>
<circle cx="1263.6" cy="399.6" r="3.9"/>
<circle cx="1268" cy="400.7" r="3.9"/>
<circle cx="1274.6" cy="404" r="3.9"/>
<circle cx="1281.2" cy="402.3" r="3.9"/>
<circle cx="1229.1" cy="384.8" r="3.9"/>
<circle cx="1239.5" cy="385.4" r="3.9"/>
<circle cx="1244.5" cy="384.3" r="3.9"/>
<circle cx="1228" cy="396.3" r="3.9"/>
<circle cx="1231.9" cy="404" r="3.9"/>
<circle cx="1241.2" cy="404" r="3.9"/>
<circle cx="1250" cy="402.9" r="3.9"/>
<circle cx="1182.4" cy="385.7" r="3.9"/>
<circle cx="1184.2" cy="397.6" r="3.9"/>
<circle cx="1267.5" cy="400.8" r="3.9"/>
<circle cx="1274.1" cy="385.5" r="3.9"/>
<circle cx="1259.9" cy="397.5" r="3.9"/>
<circle cx="1279.6" cy="388.8" r="3.9"/>
<circle cx="1353.8" cy="384.7" r="3.9"/>
<circle cx="1378.9" cy="383.4" r="3.9"/>
</g>
<g fill="#ff0000" fill-opacity="0.9" stroke="#ff0000" stroke-opacity="0.9" stroke-width="0.8">
<circle cx="1190.6" cy="268.1" r="3.9"/>
<circle cx="1224.2" cy="340.5" r="3.9"/>
<circle cx="1173.5" cy="350.1" r="3.9"/>
<circle cx="1200.9" cy="385.9" r="3.9"/>
<circle cx="1210.5" cy="395.4" r="3.9"/>
<circle cx="1394.4" cy="344.2" r="3.9"/>
<circle cx="1388.3" cy="367" r="3.9"/>
<circle cx="1382.9" cy="372.7" r="3.9"/>
<circle cx="1395" cy="370.2" r="3.9"/>
<circle cx="1395.9" cy="376.9" r="3.9"/>
<circle cx="1431.3" cy="393.3" r="3.9"/>
<circle cx="1363.9" cy="403.3" r="3.9"/>
<circle cx="1382.1" cy="403.6" r="3.9"/>
</g>
</g>
<rect x="1095.5" y="84.2" width="373.2" height="403.5" fill="none" stroke="#000" stroke-width="1.4"/>
<line x1="1157.1" x2="1157.1" y1="487.7" y2="498.7" stroke="#000" stroke-width="1.4"/>
<text x="1157.1" y="515.2" font-size="17.5" text-anchor="middle" font-weight="normal" fill="#000">&#8722;2</text>
<line x1="1232.8" x2="1232.8" y1="487.7" y2="498.7" stroke="#000" stroke-width="1.4"/>
<text x="1232.8" y="515.2" font-size="17.5" text-anchor="middle" font-weight="normal" fill="#000">&#8722;1</text>
<line x1="1308.5" x2="1308.5" y1="487.7" y2="498.7" stroke="#000" stroke-width="1.4"/>
<text x="1308.5" y="515.2" font-size="17.5" text-anchor="middle" font-weight="normal" fill="#000">0</text>
<line x1="1384.2" x2="1384.2" y1="487.7" y2="498.7" stroke="#000" stroke-width="1.4"/>
<text x="1384.2" y="515.2" font-size="17.5" text-anchor="middle" font-weight="normal" fill="#000">1</text>
<line x1="1459.9" x2="1459.9" y1="487.7" y2="498.7" stroke="#000" stroke-width="1.4"/>
<text x="1459.9" y="515.2" font-size="17.5" text-anchor="middle" font-weight="normal" fill="#000">2</text>
<line x1="1084.2" x2="1095.5" y1="470.6" y2="470.6" stroke="#000" stroke-width="1.4"/>
<text x="1080.5" y="476.8" font-size="17.5" text-anchor="end" font-weight="normal" fill="#000">0</text>
<line x1="1084.2" x2="1095.5" y1="369.1" y2="369.1" stroke="#000" stroke-width="1.4"/>
<text x="1080.5" y="375.3" font-size="17.5" text-anchor="end" font-weight="normal" fill="#000">2</text>
<line x1="1084.2" x2="1095.5" y1="267.6" y2="267.6" stroke="#000" stroke-width="1.4"/>
<text x="1080.5" y="273.8" font-size="17.5" text-anchor="end" font-weight="normal" fill="#000">4</text>
<line x1="1084.2" x2="1095.5" y1="166.1" y2="166.1" stroke="#000" stroke-width="1.4"/>
<text x="1080.5" y="172.3" font-size="17.5" text-anchor="end" font-weight="normal" fill="#000">6</text>
<text x="1095.5" y="69.1" font-size="26.8" text-anchor="start" font-weight="bold" fill="#000">TB genes, HRZE</text>
<text x="1282.2" y="539.9" font-size="22.5" text-anchor="middle" font-weight="normal" fill="#000">Log2 Fold Change (Post/Pre HRZE)</text>
<text x="0" y="0" font-size="23" text-anchor="middle" transform="translate(1061.7 298.9) rotate(-90)">&#8722;Log10 FDR</text>
<clipPath id="vpC"><rect x="1640.4" y="80.8" width="367.5" height="403.3"/></clipPath>
<g clip-path="url(#vpC)">
<g fill="#000" fill-opacity="0.125">
<circle cx="1901.6" cy="150.7" r="4.3"/>
<circle cx="1863" cy="171.6" r="4.3"/>
<circle cx="1890.4" cy="169.7" r="4.3"/>
<circle cx="1917.4" cy="183" r="4.3"/>
<circle cx="1928.2" cy="179.2" r="4.3"/>
<circle cx="1981.3" cy="189.3" r="4.3"/>
<circle cx="1982.2" cy="199.7" r="4.3"/>
<circle cx="1991.3" cy="204.4" r="4.3"/>
<circle cx="1905" cy="196.4" r="4.3"/>
<circle cx="1884.5" cy="200.1" r="4.3"/>
<circle cx="1883.9" cy="209.4" r="4.3"/>
<circle cx="1872.2" cy="210.3" r="4.3"/>
<circle cx="1858.4" cy="201.6" r="4.3"/>
<circle cx="1863.4" cy="207.2" r="4.3"/>
<circle cx="1859.3" cy="212.6" r="4.3"/>
<circle cx="1856.9" cy="221.9" r="4.3"/>
<circle cx="1861" cy="232.3" r="4.3"/>
<circle cx="1947.8" cy="214.6" r="4.3"/>
<circle cx="1991.9" cy="221.5" r="4.3"/>
<circle cx="1906.2" cy="228" r="4.3"/>
<circle cx="1878" cy="237.3" r="4.3"/>
<circle cx="1894.5" cy="239.2" r="4.3"/>
<circle cx="1880.7" cy="244.2" r="4.3"/>
<circle cx="1873.8" cy="252.2" r="4.3"/>
<circle cx="1864.7" cy="254.5" r="4.3"/>
<circle cx="1860.1" cy="257.8" r="4.3"/>
<circle cx="1945.3" cy="259.3" r="4.3"/>
<circle cx="1984.8" cy="270.5" r="4.3"/>
<circle cx="1907.2" cy="274.6" r="4.3"/>
<circle cx="1903.1" cy="276.4" r="4.3"/>
<circle cx="1762" cy="212.7" r="4.3"/>
<circle cx="1696.8" cy="226.2" r="4.3"/>
<circle cx="1749.8" cy="237" r="4.3"/>
<circle cx="1687.1" cy="256.9" r="4.3"/>
<circle cx="1727.7" cy="296.9" r="4.3"/>
<circle cx="1701.4" cy="307.8" r="4.3"/>
<circle cx="1738.9" cy="307.8" r="4.3"/>
<circle cx="1761.6" cy="301.3" r="4.3"/>
<circle cx="1764.9" cy="310.5" r="4.3"/>
<circle cx="1756.2" cy="312.7" r="4.3"/>
<circle cx="1730.3" cy="319" r="4.3"/>
<circle cx="1656.8" cy="323.5" r="4.3"/>
<circle cx="1686.9" cy="346.2" r="4.3"/>
<circle cx="1733.3" cy="344.3" r="4.3"/>
<circle cx="1696.4" cy="356.3" r="4.3"/>
<circle cx="1688" cy="359.8" r="4.3"/>
<circle cx="1726.9" cy="353.8" r="4.3"/>
<circle cx="1734.7" cy="361.7" r="4.3"/>
<circle cx="1737" cy="370.6" r="4.3"/>
<circle cx="1767.4" cy="365.6" r="4.3"/>
<circle cx="1764.3" cy="366.6" r="4.3"/>
<circle cx="1776.5" cy="363.9" r="4.3"/>
<circle cx="1781.9" cy="372.5" r="4.3"/>
<circle cx="1771.3" cy="379" r="4.3"/>
<circle cx="1753.4" cy="376.7" r="4.3"/>
<circle cx="1742.8" cy="379" r="4.3"/>
<circle cx="1719.3" cy="376.7" r="4.3"/>
<circle cx="1719.7" cy="379.7" r="4.3"/>
<circle cx="1709" cy="379" r="4.3"/>
<circle cx="1714" cy="384.3" r="4.3"/>
<circle cx="1735.5" cy="383.8" r="4.3"/>
<circle cx="1744" cy="382.3" r="4.3"/>
<circle cx="1752.2" cy="380.8" r="4.3"/>
<circle cx="1757.8" cy="382.1" r="4.3"/>
<circle cx="1786" cy="385.9" r="4.3"/>
<circle cx="1768.3" cy="389" r="4.3"/>
<circle cx="1709.5" cy="394.6" r="4.3"/>
<circle cx="1726" cy="393" r="4.3"/>
<circle cx="1732" cy="394.4" r="4.3"/>
<circle cx="1738.9" cy="391" r="4.3"/>
<circle cx="1744.7" cy="394.6" r="4.3"/>
<circle cx="1745" cy="395.4" r="4.3"/>
<circle cx="1751.7" cy="403.8" r="4.3"/>
<circle cx="1752.7" cy="405.9" r="4.3"/>
<circle cx="1746.5" cy="408.7" r="4.3"/>
<circle cx="1748.4" cy="414" r="4.3"/>
<circle cx="1748.6" cy="415" r="4.3"/>
<circle cx="1751.7" cy="419.2" r="4.3"/>
<circle cx="1761.7" cy="406.9" r="4.3"/>
<circle cx="1759.9" cy="411.5" r="4.3"/>
<circle cx="1768.6" cy="406.9" r="4.3"/>
<circle cx="1770.6" cy="406.1" r="4.3"/>
<circle cx="1766.5" cy="415.1" r="4.3"/>
<circle cx="1763.4" cy="417.3" r="4.3"/>
<circle cx="1785" cy="410" r="4.3"/>
<circle cx="1789" cy="415.6" r="4.3"/>
<circle cx="1774.2" cy="420.2" r="4.3"/>
<circle cx="1778.3" cy="419.2" r="4.3"/>
<circle cx="1785.5" cy="421" r="4.3"/>
<circle cx="1776.2" cy="423.3" r="4.3"/>
<circle cx="1780.3" cy="426.3" r="4.3"/>
<circle cx="1774.2" cy="426.3" r="4.3"/>
<circle cx="1781.4" cy="429.4" r="4.3"/>
<circle cx="1786" cy="432" r="4.3"/>
<circle cx="1764.5" cy="431" r="4.3"/>
<circle cx="1767.5" cy="435" r="4.3"/>
<circle cx="1777.3" cy="434.5" r="4.3"/>
<circle cx="1779.8" cy="436.6" r="4.3"/>
<circle cx="1783.4" cy="434" r="4.3"/>
<circle cx="1728.1" cy="424.5" r="4.3"/>
<circle cx="1740.4" cy="437.1" r="4.3"/>
<circle cx="1751.1" cy="439.5" r="4.3"/>
<circle cx="1774.2" cy="443.8" r="4.3"/>
<circle cx="1768.6" cy="447.9" r="4.3"/>
<circle cx="1780.9" cy="445.6" r="4.3"/>
<circle cx="1786" cy="445.8" r="4.3"/>
<circle cx="1786.5" cy="446.3" r="4.3"/>
<circle cx="1794.7" cy="446.8" r="4.3"/>
<circle cx="1797.8" cy="448.9" r="4.3"/>
<circle cx="1785" cy="453.5" r="4.3"/>
<circle cx="1789.6" cy="457.1" r="4.3"/>
<circle cx="1793.7" cy="453" r="4.3"/>
<circle cx="1799.8" cy="453" r="4.3"/>
<circle cx="1800.3" cy="456" r="4.3"/>
<circle cx="1799.8" cy="459.1" r="4.3"/>
<circle cx="1803.9" cy="461.2" r="4.3"/>
<circle cx="1806" cy="457.1" r="4.3"/>
<circle cx="1810" cy="463.2" r="4.3"/>
<circle cx="1811" cy="464" r="4.3"/>
<circle cx="1813.1" cy="464.2" r="4.3"/>
<circle cx="1814" cy="463.5" r="4.3"/>
<circle cx="1818.2" cy="460.1" r="4.3"/>
<circle cx="1820.3" cy="455" r="4.3"/>
<circle cx="1822.3" cy="448.9" r="4.3"/>
<circle cx="1823.4" cy="441.7" r="4.3"/>
<circle cx="1824.4" cy="435.6" r="4.3"/>
<circle cx="1824.4" cy="428.4" r="4.3"/>
<circle cx="1846.3" cy="281.6" r="4.3"/>
<circle cx="1868.4" cy="278.7" r="4.3"/>
<circle cx="1879.3" cy="281.5" r="4.3"/>
<circle cx="1894.9" cy="284.7" r="4.3"/>
<circle cx="1918.8" cy="287.9" r="4.3"/>
<circle cx="1934" cy="286.8" r="4.3"/>
<circle cx="1963.3" cy="282.9" r="4.3"/>
<circle cx="1960.2" cy="294.9" r="4.3"/>
<circle cx="1939.9" cy="295.9" r="4.3"/>
<circle cx="1926.1" cy="304.5" r="4.3"/>
<circle cx="1940.2" cy="309.4" r="4.3"/>
<circle cx="1848.7" cy="290.9" r="4.3"/>
<circle cx="1854.9" cy="290.2" r="4.3"/>
<circle cx="1859.3" cy="294.1" r="4.3"/>
<circle cx="1851.7" cy="297.1" r="4.3"/>
<circle cx="1855.7" cy="299.5" r="4.3"/>
<circle cx="1856.2" cy="304.2" r="4.3"/>
<circle cx="1843.2" cy="303.7" r="4.3"/>
<circle cx="1846.3" cy="307" r="4.3"/>
<circle cx="1866.8" cy="303.7" r="4.3"/>
<circle cx="1849.1" cy="317.7" r="4.3"/>
<circle cx="1864.7" cy="319" r="4.3"/>
<circle cx="1851" cy="322.9" r="4.3"/>
<circle cx="1853.6" cy="328.7" r="4.3"/>
<circle cx="1853.9" cy="329.2" r="4.3"/>
<circle cx="1848.4" cy="331.8" r="4.3"/>
<circle cx="1854.6" cy="334.4" r="4.3"/>
<circle cx="1848.9" cy="338" r="4.3"/>
<circle cx="1848.9" cy="341.1" r="4.3"/>
<circle cx="1859.8" cy="339.6" r="4.3"/>
<circle cx="1859.6" cy="342.7" r="4.3"/>
<circle cx="1868.9" cy="335.4" r="4.3"/>
<circle cx="1869.2" cy="335.8" r="4.3"/>
<circle cx="1874.7" cy="339.1" r="4.3"/>
<circle cx="1875.7" cy="343" r="4.3"/>
<circle cx="1892.6" cy="315.5" r="4.3"/>
<circle cx="1888.2" cy="326.6" r="4.3"/>
<circle cx="1888.5" cy="326.9" r="4.3"/>
<circle cx="1895.9" cy="325" r="4.3"/>
<circle cx="1903.5" cy="324" r="4.3"/>
<circle cx="1904.2" cy="328.7" r="4.3"/>
<circle cx="1891.6" cy="334.1" r="4.3"/>
<circle cx="1894.2" cy="335.7" r="4.3"/>
<circle cx="1914.6" cy="337.5" r="4.3"/>
<circle cx="1936.1" cy="341.4" r="4.3"/>
<circle cx="1987.1" cy="337.5" r="4.3"/>
<circle cx="1890" cy="346.9" r="4.3"/>
<circle cx="1928.5" cy="349.7" r="4.3"/>
<circle cx="1912.9" cy="355.5" r="4.3"/>
<circle cx="1969.4" cy="359" r="4.3"/>
<circle cx="1856.7" cy="347.4" r="4.3"/>
<circle cx="1867.6" cy="346.4" r="4.3"/>
<circle cx="1869.7" cy="352.1" r="4.3"/>
<circle cx="1870" cy="352.5" r="4.3"/>
<circle cx="1878.5" cy="349.7" r="4.3"/>
<circle cx="1839.7" cy="352.6" r="4.3"/>
<circle cx="1839.5" cy="358.8" r="4.3"/>
<circle cx="1853.1" cy="353.1" r="4.3"/>
<circle cx="1853.5" cy="353.6" r="4.3"/>
<circle cx="1850.5" cy="356.8" r="4.3"/>
<circle cx="1862.4" cy="355.2" r="4.3"/>
<circle cx="1864" cy="360.9" r="4.3"/>
<circle cx="1875.1" cy="357.8" r="4.3"/>
<circle cx="1877.5" cy="361.4" r="4.3"/>
<circle cx="1879.1" cy="365.1" r="4.3"/>
<circle cx="1874.9" cy="366.1" r="4.3"/>
<circle cx="1892.8" cy="365.9" r="4.3"/>
<circle cx="1901.4" cy="363.8" r="4.3"/>
<circle cx="1913.9" cy="366.3" r="4.3"/>
<circle cx="1843.7" cy="370" r="4.3"/>
<circle cx="1871.8" cy="370" r="4.3"/>
<circle cx="1878.2" cy="363.4" r="4.3"/>
<circle cx="1878.8" cy="367.3" r="4.3"/>
<circle cx="1874.3" cy="366.7" r="4.3"/>
<circle cx="1843.6" cy="372.8" r="4.3"/>
<circle cx="1843.6" cy="375.6" r="4.3"/>
<circle cx="1831.8" cy="378.8" r="4.3"/>
<circle cx="1838.5" cy="381.2" r="4.3"/>
<circle cx="1848.6" cy="380.1" r="4.3"/>
<circle cx="1851.4" cy="383.5" r="4.3"/>
<circle cx="1846.9" cy="385.7" r="4.3"/>
<circle cx="1842.4" cy="389" r="4.3"/>
<circle cx="1842.4" cy="391.8" r="4.3"/>
<circle cx="1849.7" cy="391.3" r="4.3"/>
<circle cx="1834.6" cy="388.5" r="4.3"/>
<circle cx="1833" cy="394.1" r="4.3"/>
<circle cx="1858.6" cy="379" r="4.3"/>
<circle cx="1863.5" cy="375.1" r="4.3"/>
<circle cx="1871.5" cy="372.8" r="4.3"/>
<circle cx="1870.9" cy="380.1" r="4.3"/>
<circle cx="1874.3" cy="381.2" r="4.3"/>
<circle cx="1859.8" cy="383.5" r="4.3"/>
<circle cx="1858.6" cy="385.7" r="4.3"/>
<circle cx="1886.6" cy="382.3" r="4.3"/>
<circle cx="1891" cy="386.3" r="4.3"/>
<circle cx="1888" cy="390.2" r="4.3"/>
<circle cx="1900.3" cy="391.5" r="4.3"/>
<circle cx="1854.5" cy="396.9" r="4.3"/>
<circle cx="1845.6" cy="401.9" r="4.3"/>
<circle cx="1832.4" cy="401.9" r="4.3"/>
<circle cx="1832.4" cy="404.1" r="4.3"/>
<circle cx="1838.5" cy="401.3" r="4.3"/>
<circle cx="1855.9" cy="403.6" r="4.3"/>
<circle cx="1858.6" cy="403.6" r="4.3"/>
<circle cx="1835.7" cy="409.7" r="4.3"/>
<circle cx="1836" cy="410.3" r="4.3"/>
<circle cx="1830.7" cy="412.5" r="4.3"/>
<circle cx="1846.9" cy="411.4" r="4.3"/>
<circle cx="1845.2" cy="415.3" r="4.3"/>
<circle cx="1854.7" cy="410.8" r="4.3"/>
<circle cx="1853.6" cy="414.7" r="4.3"/>
<circle cx="1833.5" cy="417.5" r="4.3"/>
<circle cx="1832.5" cy="418.5" r="4.3"/>
<circle cx="1859.8" cy="420.9" r="4.3"/>
<circle cx="1860.3" cy="423.7" r="4.3"/>
<circle cx="1845.2" cy="424.2" r="4.3"/>
<circle cx="1845.8" cy="426.5" r="4.3"/>
<circle cx="1849.2" cy="427" r="4.3"/>
<circle cx="1839.1" cy="422.6" r="4.3"/>
<circle cx="1846" cy="425" r="4.3"/>
<circle cx="1860.3" cy="430.9" r="4.3"/>
<circle cx="1882.1" cy="409.7" r="4.3"/>
<circle cx="1891.8" cy="411.9" r="4.3"/>
<circle cx="1878" cy="427" r="4.3"/>
<circle cx="1826.8" cy="427.6" r="4.3"/>
<circle cx="1832.4" cy="429.8" r="4.3"/>
<circle cx="1846.4" cy="431.5" r="4.3"/>
<circle cx="1846.9" cy="437.1" r="4.3"/>
<circle cx="1836.9" cy="438.2" r="4.3"/>
<circle cx="1826.8" cy="438.2" r="4.3"/>
<circle cx="1821.2" cy="439.9" r="4.3"/>
<circle cx="1825.7" cy="443.8" r="4.3"/>
<circle cx="1833.5" cy="446" r="4.3"/>
<circle cx="1846.9" cy="445.5" r="4.3"/>
<circle cx="1846.9" cy="448.2" r="4.3"/>
<circle cx="1821.2" cy="447.1" r="4.3"/>
<circle cx="1833.5" cy="451.6" r="4.3"/>
<circle cx="1820.1" cy="452.7" r="4.3"/>
<circle cx="1842.4" cy="455" r="4.3"/>
<circle cx="1835.2" cy="456.1" r="4.3"/>
<circle cx="1827.9" cy="458.3" r="4.3"/>
<circle cx="1825.7" cy="461.7" r="4.3"/>
<circle cx="1819" cy="457.2" r="4.3"/>
<circle cx="1814.5" cy="462.8" r="4.3"/>
<circle cx="1812.3" cy="465" r="4.3"/>
<circle cx="1811" cy="464" r="4.3"/>
<circle cx="1802.2" cy="451.6" r="4.3"/>
<circle cx="1800.5" cy="457" r="4.3"/>
<circle cx="1804.5" cy="460.5" r="4.3"/>
<circle cx="1816" cy="461" r="4.3"/>
<circle cx="1822" cy="452" r="4.3"/>
<circle cx="1828" cy="448" r="4.3"/>
<circle cx="1830" cy="433" r="4.3"/>
<circle cx="1838" cy="425" r="4.3"/>
<circle cx="1828" cy="441" r="4.3"/>
<circle cx="1805.1" cy="462.2" r="4.3"/>
<circle cx="1802.4" cy="459.6" r="4.3"/>
<circle cx="1789.3" cy="453.6" r="4.3"/>
<circle cx="1804" cy="463.3" r="4.3"/>
<circle cx="1775.7" cy="448.3" r="4.3"/>
<circle cx="1795.3" cy="451.4" r="4.3"/>
<circle cx="1783.7" cy="437.7" r="4.3"/>
<circle cx="1795.2" cy="456.6" r="4.3"/>
<circle cx="1779.2" cy="441.4" r="4.3"/>
<circle cx="1799" cy="460.4" r="4.3"/>
<circle cx="1798.5" cy="449.3" r="4.3"/>
<circle cx="1803.8" cy="462" r="4.3"/>
<circle cx="1773.6" cy="443.4" r="4.3"/>
<circle cx="1773.7" cy="439" r="4.3"/>
<circle cx="1791.9" cy="459.9" r="4.3"/>
<circle cx="1785.8" cy="453.2" r="4.3"/>
<circle cx="1785.6" cy="444.1" r="4.3"/>
<circle cx="1757.6" cy="436.4" r="4.3"/>
<circle cx="1791.2" cy="451.1" r="4.3"/>
<circle cx="1808.6" cy="466.6" r="4.3"/>
<circle cx="1803.9" cy="463.5" r="4.3"/>
<circle cx="1778.1" cy="451.1" r="4.3"/>
<circle cx="1753.5" cy="393.4" r="4.3"/>
<circle cx="1800.9" cy="457.4" r="4.3"/>
<circle cx="1782.6" cy="447.4" r="4.3"/>
<circle cx="1784.6" cy="435.4" r="4.3"/>
<circle cx="1791.2" cy="443.7" r="4.3"/>
<circle cx="1804.6" cy="461" r="4.3"/>
<circle cx="1799.3" cy="458.4" r="4.3"/>
<circle cx="1796.9" cy="457.7" r="4.3"/>
<circle cx="1786.4" cy="446.7" r="4.3"/>
<circle cx="1785.5" cy="447.5" r="4.3"/>
<circle cx="1784.7" cy="441.7" r="4.3"/>
<circle cx="1800.2" cy="457.6" r="4.3"/>
<circle cx="1807.4" cy="465.7" r="4.3"/>
<circle cx="1793.4" cy="455" r="4.3"/>
<circle cx="1791.1" cy="449.8" r="4.3"/>
<circle cx="1752.6" cy="398.6" r="4.3"/>
<circle cx="1796.2" cy="461.6" r="4.3"/>
<circle cx="1801.3" cy="460.5" r="4.3"/>
<circle cx="1799.9" cy="461.4" r="4.3"/>
<circle cx="1781.9" cy="440.8" r="4.3"/>
<circle cx="1776.6" cy="451.6" r="4.3"/>
<circle cx="1768.9" cy="393.1" r="4.3"/>
<circle cx="1765.2" cy="404.7" r="4.3"/>
<circle cx="1812.5" cy="466" r="4.3"/>
<circle cx="1813.3" cy="459.5" r="4.3"/>
<circle cx="1816.9" cy="457.4" r="4.3"/>
<circle cx="1815.5" cy="455.6" r="4.3"/>
<circle cx="1837.8" cy="411.2" r="4.3"/>
<circle cx="1813.1" cy="464.3" r="4.3"/>
<circle cx="1827.1" cy="407.3" r="4.3"/>
<circle cx="1845.3" cy="416.2" r="4.3"/>
<circle cx="1812.9" cy="466.3" r="4.3"/>
<circle cx="1812.7" cy="462" r="4.3"/>
<circle cx="1816.2" cy="463" r="4.3"/>
<circle cx="1817.9" cy="451.4" r="4.3"/>
<circle cx="1827.5" cy="415.9" r="4.3"/>
<circle cx="1811" cy="466.6" r="4.3"/>
<circle cx="1831.6" cy="431.6" r="4.3"/>
<circle cx="1825.8" cy="430.3" r="4.3"/>
<circle cx="1810.8" cy="462.3" r="4.3"/>
<circle cx="1835.3" cy="425.8" r="4.3"/>
<circle cx="1816.5" cy="455.2" r="4.3"/>
<circle cx="1838.4" cy="423.8" r="4.3"/>
<circle cx="1816.4" cy="451" r="4.3"/>
<circle cx="1813.3" cy="460.1" r="4.3"/>
<circle cx="1820.3" cy="446.6" r="4.3"/>
<circle cx="1815.3" cy="453.9" r="4.3"/>
<circle cx="1814.7" cy="457.8" r="4.3"/>
<circle cx="1829.7" cy="433.7" r="4.3"/>
<circle cx="1809.4" cy="466.4" r="4.3"/>
<circle cx="1822" cy="448.9" r="4.3"/>
<circle cx="1819.1" cy="456.4" r="4.3"/>
<circle cx="1820.7" cy="451.3" r="4.3"/>
<circle cx="1830.9" cy="414.8" r="4.3"/>
<circle cx="1817.9" cy="456.3" r="4.3"/>
<circle cx="1821.4" cy="454.6" r="4.3"/>
<circle cx="1817.8" cy="453.5" r="4.3"/>
<circle cx="1825.6" cy="420.9" r="4.3"/>
<circle cx="1812.8" cy="460" r="4.3"/>
<circle cx="1819.3" cy="452.4" r="4.3"/>
<circle cx="1824" cy="447.3" r="4.3"/>
<circle cx="1816.8" cy="461.1" r="4.3"/>
<circle cx="1814.6" cy="465.8" r="4.3"/>
</g>
<g fill="#ff0000" fill-opacity="0.9" stroke="#ff0000" stroke-opacity="0.9" stroke-width="0.8">
<circle cx="1686" cy="133.4" r="3.9"/>
<circle cx="1870.3" cy="98.1" r="3.9"/>
<circle cx="1874.2" cy="103.6" r="3.9"/>
<circle cx="1928" cy="140" r="3.9"/>
</g>
</g>
<rect x="1640.4" y="80.8" width="367.5" height="403.3" fill="none" stroke="#000" stroke-width="1.4"/>
<line x1="1711.15" x2="1711.15" y1="484.1" y2="495.1" stroke="#000" stroke-width="1.4"/>
<text x="1711.15" y="511.9" font-size="17.5" text-anchor="middle" font-weight="normal" fill="#000">&#8722;0.5</text>
<line x1="1811.3" x2="1811.3" y1="484.1" y2="495.1" stroke="#000" stroke-width="1.4"/>
<text x="1811.3" y="511.9" font-size="17.5" text-anchor="middle" font-weight="normal" fill="#000">0.0</text>
<line x1="1911.45" x2="1911.45" y1="484.1" y2="495.1" stroke="#000" stroke-width="1.4"/>
<text x="1911.45" y="511.9" font-size="17.5" text-anchor="middle" font-weight="normal" fill="#000">0.5</text>
<line x1="1629.1" x2="1640.4" y1="466.4" y2="466.4" stroke="#000" stroke-width="1.4"/>
<text x="1625.4" y="472.6" font-size="17.5" text-anchor="end" font-weight="normal" fill="#000">0.0</text>
<line x1="1629.1" x2="1640.4" y1="342.9" y2="342.9" stroke="#000" stroke-width="1.4"/>
<text x="1625.4" y="349.1" font-size="17.5" text-anchor="end" font-weight="normal" fill="#000">0.5</text>
<line x1="1629.1" x2="1640.4" y1="219.4" y2="219.4" stroke="#000" stroke-width="1.4"/>
<text x="1625.4" y="225.6" font-size="17.5" text-anchor="end" font-weight="normal" fill="#000">1.0</text>
<line x1="1629.1" x2="1640.4" y1="95.9" y2="95.9" stroke="#000" stroke-width="1.4"/>
<text x="1625.4" y="102.1" font-size="17.5" text-anchor="end" font-weight="normal" fill="#000">1.5</text>
<text x="1640.4" y="65.2" font-size="26.8" text-anchor="start" font-weight="bold" fill="#000">TB genes, NTZ</text>
<text x="1824.2" y="535.9" font-size="22.5" text-anchor="middle" font-weight="normal" fill="#000">Log2 Fold Change (Post/Pre)</text>
<text x="0" y="0" font-size="23" text-anchor="middle" transform="translate(1589.8 301) rotate(-90)">&#8722;Log10 FDR</text>
<clipPath id="vpD"><rect x="1095.5" y="612.4" width="373.4" height="404.5"/></clipPath>
<g clip-path="url(#vpD)">
<g fill="#000" fill-opacity="0.125">
<circle cx="1154" cy="909.6" r="4.3"/>
<circle cx="1171.8" cy="906.5" r="4.3"/>
<circle cx="1175.9" cy="909.6" r="4.3"/>
<circle cx="1179.4" cy="912.6" r="4.3"/>
<circle cx="1194.7" cy="912.2" r="4.3"/>
<circle cx="1201.5" cy="901.4" r="4.3"/>
<circle cx="1206.6" cy="913.7" r="4.3"/>
<circle cx="1206.6" cy="919.8" r="4.3"/>
<circle cx="1197.4" cy="931.1" r="4.3"/>
<circle cx="1193.3" cy="936.8" r="4.3"/>
<circle cx="1192.3" cy="944.4" r="4.3"/>
<circle cx="1199.4" cy="949.5" r="4.3"/>
<circle cx="1177.3" cy="951.5" r="4.3"/>
<circle cx="1186.5" cy="955" r="4.3"/>
<circle cx="1207.2" cy="945.4" r="4.3"/>
<circle cx="1214.2" cy="946.8" r="4.3"/>
<circle cx="1205.6" cy="959.7" r="4.3"/>
<circle cx="1213.8" cy="966.9" r="4.3"/>
<circle cx="1222" cy="965.9" r="4.3"/>
<circle cx="1209.7" cy="979.8" r="4.3"/>
<circle cx="1231.2" cy="981.2" r="4.3"/>
<circle cx="1327.4" cy="920.4" r="4.3"/>
<circle cx="1321.9" cy="913" r="4.3"/>
<circle cx="1325.4" cy="900.3" r="4.3"/>
<circle cx="1319.2" cy="941.7" r="4.3"/>
<circle cx="1316.2" cy="936.2" r="4.3"/>
<circle cx="1313.1" cy="957.3" r="4.3"/>
<circle cx="1308.4" cy="953.2" r="4.3"/>
<circle cx="1303.5" cy="970.4" r="4.3"/>
<circle cx="1310" cy="973.7" r="4.3"/>
<circle cx="1303.5" cy="983.3" r="4.3"/>
<circle cx="1288.5" cy="990.5" r="4.3"/>
<circle cx="1194.5" cy="895.1" r="4.3"/>
<circle cx="1201.2" cy="899.6" r="4.3"/>
<circle cx="1224.7" cy="897.4" r="4.3"/>
<circle cx="1239.2" cy="895.1" r="4.3"/>
<circle cx="1238" cy="896.5" r="4.3"/>
<circle cx="1248.9" cy="961.9" r="4.3"/>
<circle cx="1234.8" cy="947.7" r="4.3"/>
<circle cx="1232.9" cy="941.9" r="4.3"/>
<circle cx="1222.3" cy="918.9" r="4.3"/>
<circle cx="1199.5" cy="895.1" r="4.3"/>
<circle cx="1260.4" cy="998.4" r="4.3"/>
<circle cx="1253.5" cy="987" r="4.3"/>
<circle cx="1221.1" cy="914.6" r="4.3"/>
<circle cx="1241.9" cy="956.9" r="4.3"/>
<circle cx="1189.7" cy="892.7" r="4.3"/>
<circle cx="1248.3" cy="977.3" r="4.3"/>
<circle cx="1241.2" cy="967.6" r="4.3"/>
<circle cx="1219.6" cy="899" r="4.3"/>
<circle cx="1228.4" cy="960.5" r="4.3"/>
<circle cx="1257.8" cy="995.7" r="4.3"/>
<circle cx="1247.1" cy="974.6" r="4.3"/>
<circle cx="1256.8" cy="993.7" r="4.3"/>
<circle cx="1251.4" cy="988.3" r="4.3"/>
<circle cx="1252.8" cy="987.3" r="4.3"/>
<circle cx="1245.2" cy="966.2" r="4.3"/>
<circle cx="1215.3" cy="897.2" r="4.3"/>
<circle cx="1247.2" cy="968" r="4.3"/>
<circle cx="1256.2" cy="994" r="4.3"/>
<circle cx="1239.2" cy="975.4" r="4.3"/>
<circle cx="1257.7" cy="994.3" r="4.3"/>
<circle cx="1245.7" cy="962.2" r="4.3"/>
<circle cx="1233.2" cy="949.2" r="4.3"/>
<circle cx="1204.9" cy="918.3" r="4.3"/>
<circle cx="1223.6" cy="929.2" r="4.3"/>
<circle cx="1238.9" cy="945.3" r="4.3"/>
<circle cx="1259.2" cy="997.4" r="4.3"/>
<circle cx="1231.3" cy="917" r="4.3"/>
<circle cx="1253.6" cy="988.8" r="4.3"/>
<circle cx="1209.5" cy="913.1" r="4.3"/>
<circle cx="1221.3" cy="904.4" r="4.3"/>
<circle cx="1258.4" cy="996.8" r="4.3"/>
<circle cx="1232.9" cy="950" r="4.3"/>
<circle cx="1243" cy="938.1" r="4.3"/>
<circle cx="1255.1" cy="992" r="4.3"/>
<circle cx="1229.1" cy="898.2" r="4.3"/>
<circle cx="1240.3" cy="959.4" r="4.3"/>
<circle cx="1237.7" cy="950.9" r="4.3"/>
<circle cx="1231.8" cy="929" r="4.3"/>
<circle cx="1236.8" cy="934.6" r="4.3"/>
<circle cx="1239" cy="965.6" r="4.3"/>
<circle cx="1246.2" cy="969.5" r="4.3"/>
<circle cx="1256.9" cy="995.9" r="4.3"/>
<circle cx="1248.7" cy="968.6" r="4.3"/>
<circle cx="1241" cy="963.7" r="4.3"/>
<circle cx="1236.3" cy="945.5" r="4.3"/>
<circle cx="1240.3" cy="933.8" r="4.3"/>
<circle cx="1260.4" cy="999.3" r="4.3"/>
<circle cx="1251.9" cy="986.2" r="4.3"/>
<circle cx="1230.2" cy="908.6" r="4.3"/>
<circle cx="1256.6" cy="987.7" r="4.3"/>
<circle cx="1248.1" cy="969.4" r="4.3"/>
<circle cx="1257.8" cy="992.1" r="4.3"/>
<circle cx="1231.8" cy="900.2" r="4.3"/>
<circle cx="1243.2" cy="962" r="4.3"/>
<circle cx="1235" cy="958.8" r="4.3"/>
<circle cx="1222.9" cy="896.3" r="4.3"/>
<circle cx="1259.1" cy="996.7" r="4.3"/>
<circle cx="1247.8" cy="977.4" r="4.3"/>
<circle cx="1260.4" cy="997.8" r="4.3"/>
<circle cx="1253.3" cy="990.6" r="4.3"/>
<circle cx="1230.4" cy="937.7" r="4.3"/>
<circle cx="1230" cy="935.3" r="4.3"/>
<circle cx="1240.2" cy="960" r="4.3"/>
<circle cx="1253.3" cy="979.8" r="4.3"/>
<circle cx="1228.8" cy="926.6" r="4.3"/>
<circle cx="1196.9" cy="905.9" r="4.3"/>
<circle cx="1242.8" cy="961.6" r="4.3"/>
<circle cx="1250.5" cy="970.8" r="4.3"/>
<circle cx="1249.1" cy="961" r="4.3"/>
<circle cx="1223.7" cy="930.4" r="4.3"/>
<circle cx="1231.4" cy="906.7" r="4.3"/>
<circle cx="1236" cy="953.8" r="4.3"/>
<circle cx="1250.9" cy="973.5" r="4.3"/>
<circle cx="1235.7" cy="952.4" r="4.3"/>
<circle cx="1258.6" cy="995.9" r="4.3"/>
<circle cx="1246" cy="974.9" r="4.3"/>
<circle cx="1222" cy="929.6" r="4.3"/>
<circle cx="1237.1" cy="900.8" r="4.3"/>
<circle cx="1236" cy="955" r="4.3"/>
<circle cx="1244.3" cy="940.5" r="4.3"/>
<circle cx="1247.5" cy="969.1" r="4.3"/>
<circle cx="1245.9" cy="985.4" r="4.3"/>
<circle cx="1252" cy="986.5" r="4.3"/>
<circle cx="1218" cy="944.5" r="4.3"/>
<circle cx="1226.6" cy="920" r="4.3"/>
<circle cx="1221.8" cy="933.4" r="4.3"/>
<circle cx="1205.3" cy="904.1" r="4.3"/>
<circle cx="1258.6" cy="992.7" r="4.3"/>
<circle cx="1250.4" cy="976.9" r="4.3"/>
<circle cx="1208" cy="903.6" r="4.3"/>
<circle cx="1251.1" cy="984" r="4.3"/>
<circle cx="1247.1" cy="972.5" r="4.3"/>
<circle cx="1242.1" cy="956.4" r="4.3"/>
<circle cx="1243.6" cy="953.2" r="4.3"/>
<circle cx="1253.7" cy="990.6" r="4.3"/>
<circle cx="1244.3" cy="940.2" r="4.3"/>
<circle cx="1254.1" cy="983.1" r="4.3"/>
<circle cx="1226.5" cy="906.8" r="4.3"/>
<circle cx="1222" cy="892.8" r="4.3"/>
<circle cx="1250.7" cy="984.2" r="4.3"/>
<circle cx="1237.5" cy="965.5" r="4.3"/>
<circle cx="1244.2" cy="968" r="4.3"/>
<circle cx="1204.4" cy="905.2" r="4.3"/>
<circle cx="1238.1" cy="956.4" r="4.3"/>
<circle cx="1259" cy="995.9" r="4.3"/>
<circle cx="1244.2" cy="951.5" r="4.3"/>
<circle cx="1253.1" cy="985.1" r="4.3"/>
<circle cx="1218.2" cy="903.6" r="4.3"/>
<circle cx="1230.5" cy="925.5" r="4.3"/>
<circle cx="1245.8" cy="956.3" r="4.3"/>
<circle cx="1224" cy="914.9" r="4.3"/>
<circle cx="1234" cy="928.6" r="4.3"/>
<circle cx="1261.9" cy="997.9" r="4.3"/>
<circle cx="1221.8" cy="932.1" r="4.3"/>
<circle cx="1236.7" cy="956.6" r="4.3"/>
<circle cx="1244.6" cy="981.9" r="4.3"/>
<circle cx="1252.1" cy="966.8" r="4.3"/>
<circle cx="1228.2" cy="933.3" r="4.3"/>
<circle cx="1257" cy="996.3" r="4.3"/>
<circle cx="1262.1" cy="998.3" r="4.3"/>
<circle cx="1225.1" cy="900.2" r="4.3"/>
<circle cx="1239.5" cy="936.7" r="4.3"/>
<circle cx="1214.3" cy="939.7" r="4.3"/>
<circle cx="1201" cy="895.6" r="4.3"/>
<circle cx="1247.9" cy="968" r="4.3"/>
<circle cx="1242.9" cy="971" r="4.3"/>
<circle cx="1244.4" cy="956.2" r="4.3"/>
<circle cx="1228.2" cy="894.1" r="4.3"/>
<circle cx="1225" cy="926" r="4.3"/>
<circle cx="1255.6" cy="989.2" r="4.3"/>
<circle cx="1259.8" cy="996.3" r="4.3"/>
<circle cx="1242.3" cy="954" r="4.3"/>
<circle cx="1226.1" cy="951" r="4.3"/>
<circle cx="1246" cy="978.6" r="4.3"/>
<circle cx="1225.8" cy="927" r="4.3"/>
<circle cx="1207.9" cy="927.3" r="4.3"/>
<circle cx="1222.5" cy="906.3" r="4.3"/>
<circle cx="1219.9" cy="897.3" r="4.3"/>
<circle cx="1246" cy="960.6" r="4.3"/>
<circle cx="1228.1" cy="944.8" r="4.3"/>
<circle cx="1258.5" cy="996.8" r="4.3"/>
<circle cx="1243.9" cy="963.4" r="4.3"/>
<circle cx="1236.2" cy="965.4" r="4.3"/>
<circle cx="1196.1" cy="893.1" r="4.3"/>
<circle cx="1217.8" cy="907.1" r="4.3"/>
<circle cx="1248.3" cy="971.6" r="4.3"/>
<circle cx="1237.6" cy="941.3" r="4.3"/>
<circle cx="1243.2" cy="982.7" r="4.3"/>
<circle cx="1258.7" cy="996.9" r="4.3"/>
<circle cx="1227.3" cy="943" r="4.3"/>
<circle cx="1229.4" cy="936" r="4.3"/>
<circle cx="1248" cy="970.3" r="4.3"/>
<circle cx="1210" cy="915.3" r="4.3"/>
<circle cx="1234.7" cy="919.2" r="4.3"/>
<circle cx="1247.3" cy="981.3" r="4.3"/>
<circle cx="1225.8" cy="938.3" r="4.3"/>
<circle cx="1225.5" cy="904.2" r="4.3"/>
<circle cx="1256.6" cy="994.8" r="4.3"/>
<circle cx="1236.4" cy="958.5" r="4.3"/>
<circle cx="1222.4" cy="923.5" r="4.3"/>
<circle cx="1249.2" cy="976.8" r="4.3"/>
<circle cx="1248" cy="979.4" r="4.3"/>
<circle cx="1257.1" cy="992.3" r="4.3"/>
<circle cx="1193.7" cy="903.4" r="4.3"/>
<circle cx="1245.4" cy="977.9" r="4.3"/>
<circle cx="1213.6" cy="901.7" r="4.3"/>
<circle cx="1241.7" cy="972.1" r="4.3"/>
<circle cx="1255.2" cy="986.2" r="4.3"/>
<circle cx="1240.7" cy="950.8" r="4.3"/>
<circle cx="1223.8" cy="908.8" r="4.3"/>
<circle cx="1239.1" cy="949.3" r="4.3"/>
<circle cx="1214.9" cy="919.8" r="4.3"/>
<circle cx="1258" cy="994.1" r="4.3"/>
<circle cx="1257.7" cy="995" r="4.3"/>
<circle cx="1254.4" cy="983.7" r="4.3"/>
<circle cx="1237.4" cy="954.1" r="4.3"/>
<circle cx="1211.3" cy="936.8" r="4.3"/>
<circle cx="1232.4" cy="929.8" r="4.3"/>
<circle cx="1225.2" cy="936.7" r="4.3"/>
<circle cx="1200.3" cy="915.4" r="4.3"/>
<circle cx="1237.7" cy="931.5" r="4.3"/>
<circle cx="1239.3" cy="966.4" r="4.3"/>
<circle cx="1254.6" cy="989.8" r="4.3"/>
<circle cx="1247.6" cy="978.6" r="4.3"/>
<circle cx="1230" cy="939.5" r="4.3"/>
<circle cx="1259.8" cy="996.4" r="4.3"/>
<circle cx="1257.2" cy="993.8" r="4.3"/>
<circle cx="1250.7" cy="983.8" r="4.3"/>
<circle cx="1248" cy="980.4" r="4.3"/>
<circle cx="1252.3" cy="976.4" r="4.3"/>
<circle cx="1222.7" cy="908.3" r="4.3"/>
<circle cx="1229.6" cy="951.8" r="4.3"/>
<circle cx="1217.1" cy="899.7" r="4.3"/>
<circle cx="1242.8" cy="954.8" r="4.3"/>
<circle cx="1252.6" cy="983.6" r="4.3"/>
<circle cx="1241.9" cy="970.7" r="4.3"/>
<circle cx="1254.9" cy="990.4" r="4.3"/>
<circle cx="1235.2" cy="911.4" r="4.3"/>
<circle cx="1239.5" cy="954" r="4.3"/>
<circle cx="1259.5" cy="998.9" r="4.3"/>
<circle cx="1250.8" cy="980.5" r="4.3"/>
<circle cx="1249.5" cy="958.6" r="4.3"/>
<circle cx="1251.6" cy="977.1" r="4.3"/>
<circle cx="1202.6" cy="904.7" r="4.3"/>
<circle cx="1231.4" cy="955.1" r="4.3"/>
<circle cx="1248.9" cy="976.7" r="4.3"/>
<circle cx="1219.8" cy="932" r="4.3"/>
<circle cx="1258.4" cy="994.6" r="4.3"/>
<circle cx="1236.8" cy="939.1" r="4.3"/>
<circle cx="1231.2" cy="932" r="4.3"/>
<circle cx="1218.2" cy="893.6" r="4.3"/>
<circle cx="1237.4" cy="943.3" r="4.3"/>
<circle cx="1246.5" cy="974.8" r="4.3"/>
<circle cx="1250.4" cy="981.3" r="4.3"/>
<circle cx="1220.5" cy="949.6" r="4.3"/>
<circle cx="1221.3" cy="917.4" r="4.3"/>
<circle cx="1223.7" cy="932.7" r="4.3"/>
<circle cx="1228.2" cy="915.5" r="4.3"/>
<circle cx="1254.9" cy="992.6" r="4.3"/>
<circle cx="1231.7" cy="903.5" r="4.3"/>
<circle cx="1235.7" cy="917.8" r="4.3"/>
<circle cx="1238.5" cy="966.3" r="4.3"/>
<circle cx="1240.3" cy="921.1" r="4.3"/>
<circle cx="1261.4" cy="998.2" r="4.3"/>
<circle cx="1244.9" cy="970.3" r="4.3"/>
<circle cx="1231" cy="911.4" r="4.3"/>
<circle cx="1250.4" cy="941.1" r="4.3"/>
<circle cx="1251.3" cy="983" r="4.3"/>
<circle cx="1227.2" cy="911.3" r="4.3"/>
<circle cx="1229.1" cy="932.3" r="4.3"/>
<circle cx="1196.6" cy="925.9" r="4.3"/>
<circle cx="1245.7" cy="960.8" r="4.3"/>
<circle cx="1221.7" cy="902.8" r="4.3"/>
<circle cx="1238.1" cy="940.3" r="4.3"/>
<circle cx="1234.4" cy="935.7" r="4.3"/>
<circle cx="1237.9" cy="967.4" r="4.3"/>
<circle cx="1252.9" cy="979.1" r="4.3"/>
<circle cx="1257.8" cy="996.1" r="4.3"/>
<circle cx="1246.9" cy="965.5" r="4.3"/>
<circle cx="1250.4" cy="958.7" r="4.3"/>
<circle cx="1236.6" cy="949.6" r="4.3"/>
<circle cx="1224.9" cy="938.4" r="4.3"/>
<circle cx="1225" cy="963.5" r="4.3"/>
<circle cx="1193.5" cy="927.2" r="4.3"/>
<circle cx="1244.2" cy="954.6" r="4.3"/>
<circle cx="1224.8" cy="919.4" r="4.3"/>
<circle cx="1223.1" cy="908.4" r="4.3"/>
<circle cx="1213.8" cy="938.3" r="4.3"/>
<circle cx="1224.2" cy="903.1" r="4.3"/>
<circle cx="1194.7" cy="921.2" r="4.3"/>
<circle cx="1250" cy="966.4" r="4.3"/>
<circle cx="1256.5" cy="985.5" r="4.3"/>
<circle cx="1224.2" cy="925.1" r="4.3"/>
<circle cx="1248.4" cy="967.3" r="4.3"/>
<circle cx="1193.5" cy="895.5" r="4.3"/>
<circle cx="1235.1" cy="954.1" r="4.3"/>
<circle cx="1241.7" cy="903.5" r="4.3"/>
<circle cx="1257.4" cy="986" r="4.3"/>
<circle cx="1243.6" cy="967.2" r="4.3"/>
<circle cx="1211.7" cy="903.5" r="4.3"/>
<circle cx="1256.2" cy="994.1" r="4.3"/>
<circle cx="1254.7" cy="966.7" r="4.3"/>
<circle cx="1248.4" cy="978" r="4.3"/>
<circle cx="1208.1" cy="903.4" r="4.3"/>
<circle cx="1245.6" cy="979.4" r="4.3"/>
<circle cx="1250.3" cy="977.5" r="4.3"/>
<circle cx="1254" cy="987.1" r="4.3"/>
<circle cx="1191.5" cy="903.8" r="4.3"/>
<circle cx="1187.4" cy="899.4" r="4.3"/>
<circle cx="1252.1" cy="975.2" r="4.3"/>
<circle cx="1240.7" cy="973.1" r="4.3"/>
<circle cx="1247.6" cy="959" r="4.3"/>
<circle cx="1248.1" cy="966.6" r="4.3"/>
<circle cx="1246.6" cy="970" r="4.3"/>
<circle cx="1235.7" cy="942.8" r="4.3"/>
<circle cx="1234.9" cy="935.3" r="4.3"/>
<circle cx="1247.5" cy="968.2" r="4.3"/>
<circle cx="1248.9" cy="970.4" r="4.3"/>
<circle cx="1258.3" cy="995.4" r="4.3"/>
<circle cx="1224.8" cy="958.3" r="4.3"/>
<circle cx="1204.9" cy="931" r="4.3"/>
<circle cx="1241.2" cy="916.2" r="4.3"/>
<circle cx="1247.7" cy="943.5" r="4.3"/>
<circle cx="1211.6" cy="916.2" r="4.3"/>
<circle cx="1200.7" cy="916" r="4.3"/>
<circle cx="1251.1" cy="973.3" r="4.3"/>
<circle cx="1257.3" cy="994.6" r="4.3"/>
<circle cx="1225.4" cy="938.1" r="4.3"/>
<circle cx="1232.7" cy="946.4" r="4.3"/>
<circle cx="1244.1" cy="971.5" r="4.3"/>
<circle cx="1242.3" cy="940.8" r="4.3"/>
<circle cx="1251.9" cy="983" r="4.3"/>
<circle cx="1210.5" cy="943.7" r="4.3"/>
<circle cx="1252.7" cy="989.4" r="4.3"/>
<circle cx="1218.1" cy="924.8" r="4.3"/>
<circle cx="1258.2" cy="992.6" r="4.3"/>
<circle cx="1248.7" cy="994.4" r="4.3"/>
<circle cx="1202" cy="894.2" r="4.3"/>
<circle cx="1248.8" cy="973.1" r="4.3"/>
<circle cx="1243.9" cy="957.3" r="4.3"/>
<circle cx="1215.6" cy="892.4" r="4.3"/>
<circle cx="1248.4" cy="974.5" r="4.3"/>
<circle cx="1189.1" cy="900.3" r="4.3"/>
<circle cx="1222.9" cy="894.2" r="4.3"/>
<circle cx="1252.7" cy="993.2" r="4.3"/>
<circle cx="1244" cy="906.7" r="4.3"/>
<circle cx="1217.2" cy="910" r="4.3"/>
<circle cx="1250.4" cy="975.7" r="4.3"/>
<circle cx="1249.6" cy="977.8" r="4.3"/>
<circle cx="1255.7" cy="965.7" r="4.3"/>
<circle cx="1255.7" cy="977.2" r="4.3"/>
<circle cx="1236.6" cy="925.8" r="4.3"/>
<circle cx="1243.1" cy="971.7" r="4.3"/>
<circle cx="1230.4" cy="923.6" r="4.3"/>
<circle cx="1208.7" cy="959.9" r="4.3"/>
<circle cx="1278.3" cy="960.1" r="4.3"/>
<circle cx="1279.1" cy="971.5" r="4.3"/>
<circle cx="1286.2" cy="934.3" r="4.3"/>
<circle cx="1280.8" cy="964.7" r="4.3"/>
<circle cx="1263.6" cy="996.3" r="4.3"/>
<circle cx="1276.7" cy="967.5" r="4.3"/>
<circle cx="1264.1" cy="997.6" r="4.3"/>
<circle cx="1332.7" cy="900.7" r="4.3"/>
<circle cx="1267.8" cy="992.1" r="4.3"/>
<circle cx="1265.2" cy="997.7" r="4.3"/>
<circle cx="1275.8" cy="967.5" r="4.3"/>
<circle cx="1262.2" cy="996.6" r="4.3"/>
<circle cx="1303" cy="895.6" r="4.3"/>
<circle cx="1305.9" cy="936.8" r="4.3"/>
<circle cx="1271.8" cy="971.7" r="4.3"/>
<circle cx="1300.4" cy="917.6" r="4.3"/>
<circle cx="1269.8" cy="984.9" r="4.3"/>
<circle cx="1285.3" cy="952.2" r="4.3"/>
<circle cx="1263.7" cy="997.5" r="4.3"/>
<circle cx="1281.9" cy="962.1" r="4.3"/>
<circle cx="1291.2" cy="960.1" r="4.3"/>
<circle cx="1304.4" cy="903.7" r="4.3"/>
<circle cx="1298.6" cy="927" r="4.3"/>
<circle cx="1286.2" cy="974" r="4.3"/>
<circle cx="1260.3" cy="998" r="4.3"/>
<circle cx="1261.5" cy="998.9" r="4.3"/>
<circle cx="1296.8" cy="915.5" r="4.3"/>
<circle cx="1289.8" cy="943.5" r="4.3"/>
<circle cx="1311.2" cy="907.9" r="4.3"/>
<circle cx="1299.8" cy="900.6" r="4.3"/>
<circle cx="1297.9" cy="932.7" r="4.3"/>
<circle cx="1312.6" cy="934.8" r="4.3"/>
<circle cx="1282.5" cy="966.5" r="4.3"/>
<circle cx="1292.4" cy="942" r="4.3"/>
<circle cx="1289.4" cy="926.3" r="4.3"/>
<circle cx="1282.1" cy="948.3" r="4.3"/>
<circle cx="1295.4" cy="928.5" r="4.3"/>
<circle cx="1286.2" cy="920" r="4.3"/>
<circle cx="1287.5" cy="953.6" r="4.3"/>
<circle cx="1279.4" cy="976.5" r="4.3"/>
<circle cx="1284.5" cy="951.7" r="4.3"/>
<circle cx="1278.3" cy="969.1" r="4.3"/>
<circle cx="1275" cy="976" r="4.3"/>
<circle cx="1299.5" cy="933.1" r="4.3"/>
<circle cx="1305.6" cy="901.5" r="4.3"/>
<circle cx="1269.1" cy="988" r="4.3"/>
<circle cx="1271.6" cy="984" r="4.3"/>
<circle cx="1274.7" cy="980.3" r="4.3"/>
<circle cx="1273.9" cy="984.9" r="4.3"/>
<circle cx="1278.8" cy="960.5" r="4.3"/>
<circle cx="1268.8" cy="982.7" r="4.3"/>
<circle cx="1283.2" cy="952.4" r="4.3"/>
<circle cx="1281.7" cy="935.9" r="4.3"/>
<circle cx="1275.6" cy="972.6" r="4.3"/>
<circle cx="1282.6" cy="957.5" r="4.3"/>
<circle cx="1291.3" cy="952.3" r="4.3"/>
<circle cx="1297.9" cy="919.5" r="4.3"/>
<circle cx="1298.9" cy="910.3" r="4.3"/>
<circle cx="1263.9" cy="991.7" r="4.3"/>
<circle cx="1275.3" cy="966.5" r="4.3"/>
<circle cx="1277.9" cy="966.6" r="4.3"/>
<circle cx="1271.6" cy="989.5" r="4.3"/>
<circle cx="1305.3" cy="897.4" r="4.3"/>
<circle cx="1285.8" cy="918.2" r="4.3"/>
<circle cx="1282.7" cy="977.6" r="4.3"/>
<circle cx="1299.1" cy="909.7" r="4.3"/>
<circle cx="1262.4" cy="998.4" r="4.3"/>
<circle cx="1268.6" cy="987.9" r="4.3"/>
<circle cx="1299.5" cy="911.8" r="4.3"/>
<circle cx="1275.7" cy="962.8" r="4.3"/>
<circle cx="1288.3" cy="919.6" r="4.3"/>
<circle cx="1279.9" cy="969.5" r="4.3"/>
<circle cx="1294.8" cy="930.4" r="4.3"/>
<circle cx="1297.1" cy="934.3" r="4.3"/>
<circle cx="1277.1" cy="965.2" r="4.3"/>
<circle cx="1265.2" cy="992.2" r="4.3"/>
<circle cx="1265.1" cy="995" r="4.3"/>
<circle cx="1297.1" cy="934.3" r="4.3"/>
<circle cx="1305.6" cy="898.7" r="4.3"/>
<circle cx="1307.7" cy="903.3" r="4.3"/>
<circle cx="1289.5" cy="925.9" r="4.3"/>
<circle cx="1263.9" cy="994.1" r="4.3"/>
<circle cx="1310.6" cy="894.4" r="4.3"/>
<circle cx="1313.8" cy="903.1" r="4.3"/>
<circle cx="1262.9" cy="998.4" r="4.3"/>
<circle cx="1283.5" cy="926.4" r="4.3"/>
<circle cx="1318.2" cy="912.2" r="4.3"/>
<circle cx="1296.9" cy="953.4" r="4.3"/>
<circle cx="1277.3" cy="968.3" r="4.3"/>
<circle cx="1292.1" cy="928.1" r="4.3"/>
<circle cx="1264.2" cy="994.2" r="4.3"/>
<circle cx="1298.7" cy="945.9" r="4.3"/>
<circle cx="1272.6" cy="976.7" r="4.3"/>
<circle cx="1290.3" cy="962.1" r="4.3"/>
<circle cx="1270.5" cy="985.6" r="4.3"/>
<circle cx="1283.2" cy="978.9" r="4.3"/>
<circle cx="1274" cy="969" r="4.3"/>
<circle cx="1266.6" cy="994.9" r="4.3"/>
<circle cx="1306.2" cy="893.9" r="4.3"/>
<circle cx="1306" cy="915.2" r="4.3"/>
<circle cx="1284.8" cy="939.7" r="4.3"/>
<circle cx="1285.9" cy="961.6" r="4.3"/>
<circle cx="1279.5" cy="961.1" r="4.3"/>
<circle cx="1281.9" cy="953.7" r="4.3"/>
<circle cx="1283.8" cy="937.7" r="4.3"/>
<circle cx="1263.9" cy="997.5" r="4.3"/>
<circle cx="1291.7" cy="969.6" r="4.3"/>
<circle cx="1290.7" cy="966.2" r="4.3"/>
<circle cx="1282.5" cy="966.9" r="4.3"/>
<circle cx="1270.9" cy="990.6" r="4.3"/>
<circle cx="1273.9" cy="970.4" r="4.3"/>
<circle cx="1272.5" cy="983.5" r="4.3"/>
<circle cx="1297" cy="902.8" r="4.3"/>
<circle cx="1322.3" cy="924.6" r="4.3"/>
<circle cx="1268" cy="982.1" r="4.3"/>
<circle cx="1272.8" cy="987.1" r="4.3"/>
<circle cx="1291" cy="939.8" r="4.3"/>
<circle cx="1282.3" cy="968.5" r="4.3"/>
<circle cx="1276.3" cy="955.2" r="4.3"/>
<circle cx="1283.2" cy="951.8" r="4.3"/>
<circle cx="1331.5" cy="906.1" r="4.3"/>
<circle cx="1307.4" cy="894.6" r="4.3"/>
<circle cx="1298.9" cy="920.5" r="4.3"/>
<circle cx="1289.7" cy="910.7" r="4.3"/>
<circle cx="1276.4" cy="980.5" r="4.3"/>
<circle cx="1268.4" cy="991.1" r="4.3"/>
<circle cx="1301.8" cy="898" r="4.3"/>
<circle cx="1292" cy="896.4" r="4.3"/>
<circle cx="1292.4" cy="937.9" r="4.3"/>
<circle cx="1287.9" cy="916.7" r="4.3"/>
<circle cx="1293.4" cy="926.9" r="4.3"/>
<circle cx="1279.8" cy="972.6" r="4.3"/>
<circle cx="1279.2" cy="965.9" r="4.3"/>
<circle cx="1307.1" cy="894.4" r="4.3"/>
<circle cx="1297" cy="911.1" r="4.3"/>
<circle cx="1310.2" cy="901.7" r="4.3"/>
<circle cx="1278" cy="986.6" r="4.3"/>
<circle cx="1283.7" cy="964.1" r="4.3"/>
<circle cx="1312.1" cy="893.4" r="4.3"/>
<circle cx="1265.2" cy="996.6" r="4.3"/>
<circle cx="1288.2" cy="938.3" r="4.3"/>
<circle cx="1263.7" cy="994.6" r="4.3"/>
<circle cx="1292.3" cy="901.5" r="4.3"/>
<circle cx="1300.7" cy="932.4" r="4.3"/>
<circle cx="1289.7" cy="935.5" r="4.3"/>
<circle cx="1268.9" cy="990.8" r="4.3"/>
<circle cx="1267.4" cy="989.4" r="4.3"/>
<circle cx="1284.3" cy="955.5" r="4.3"/>
<circle cx="1276.1" cy="986.3" r="4.3"/>
<circle cx="1265.5" cy="991" r="4.3"/>
<circle cx="1274.2" cy="975.7" r="4.3"/>
<circle cx="1296.8" cy="958.7" r="4.3"/>
<circle cx="1266.1" cy="994.6" r="4.3"/>
<circle cx="1267.3" cy="990.6" r="4.3"/>
<circle cx="1312.7" cy="905.2" r="4.3"/>
<circle cx="1301" cy="912.6" r="4.3"/>
<circle cx="1270.4" cy="990.2" r="4.3"/>
<circle cx="1278.5" cy="965.5" r="4.3"/>
<circle cx="1268.4" cy="992.5" r="4.3"/>
<circle cx="1263.8" cy="996.3" r="4.3"/>
<circle cx="1303" cy="929.1" r="4.3"/>
<circle cx="1321.3" cy="903.3" r="4.3"/>
<circle cx="1266.2" cy="995.1" r="4.3"/>
<circle cx="1260.6" cy="999.1" r="4.3"/>
<circle cx="1269.7" cy="990.8" r="4.3"/>
<circle cx="1293.1" cy="931.1" r="4.3"/>
<circle cx="1265.7" cy="989.6" r="4.3"/>
<circle cx="1299.4" cy="895.6" r="4.3"/>
<circle cx="1312.1" cy="904.8" r="4.3"/>
<circle cx="1325.9" cy="909.7" r="4.3"/>
<circle cx="1286.6" cy="960.1" r="4.3"/>
<circle cx="1306.8" cy="901.4" r="4.3"/>
<circle cx="1295.2" cy="904.1" r="4.3"/>
<circle cx="1264.6" cy="994.3" r="4.3"/>
<circle cx="1277.7" cy="963.4" r="4.3"/>
<circle cx="1272.6" cy="978" r="4.3"/>
<circle cx="1300.8" cy="910.2" r="4.3"/>
<circle cx="1273" cy="988.9" r="4.3"/>
<circle cx="1262.7" cy="992.5" r="4.3"/>
<circle cx="1277.8" cy="973" r="4.3"/>
<circle cx="1265.6" cy="993.8" r="4.3"/>
<circle cx="1308.8" cy="901.5" r="4.3"/>
<circle cx="1299.8" cy="919.6" r="4.3"/>
<circle cx="1314.4" cy="935" r="4.3"/>
<circle cx="1295.9" cy="921.8" r="4.3"/>
<circle cx="1312.1" cy="943" r="4.3"/>
<circle cx="1292.8" cy="927" r="4.3"/>
<circle cx="1287.5" cy="957.7" r="4.3"/>
<circle cx="1267.4" cy="991.1" r="4.3"/>
<circle cx="1263.5" cy="996" r="4.3"/>
<circle cx="1300.8" cy="932.1" r="4.3"/>
<circle cx="1265" cy="995.6" r="4.3"/>
<circle cx="1293.3" cy="896.2" r="4.3"/>
<circle cx="1319.7" cy="897.3" r="4.3"/>
<circle cx="1280.4" cy="939.2" r="4.3"/>
<circle cx="1276.7" cy="967" r="4.3"/>
<circle cx="1308.3" cy="901.2" r="4.3"/>
<circle cx="1278.7" cy="959.1" r="4.3"/>
<circle cx="1265.2" cy="995.5" r="4.3"/>
<circle cx="1286.1" cy="950" r="4.3"/>
<circle cx="1268.9" cy="984.5" r="4.3"/>
<circle cx="1294.9" cy="936.7" r="4.3"/>
<circle cx="1277.7" cy="957.7" r="4.3"/>
<circle cx="1308.6" cy="903.7" r="4.3"/>
<circle cx="1300.7" cy="921.3" r="4.3"/>
<circle cx="1287" cy="942.5" r="4.3"/>
<circle cx="1310.2" cy="933.6" r="4.3"/>
<circle cx="1276.3" cy="953" r="4.3"/>
<circle cx="1270.6" cy="987.3" r="4.3"/>
<circle cx="1277.8" cy="969.6" r="4.3"/>
<circle cx="1290.5" cy="951.5" r="4.3"/>
<circle cx="1317.1" cy="898.7" r="4.3"/>
<circle cx="1293.8" cy="931" r="4.3"/>
<circle cx="1274.3" cy="972.7" r="4.3"/>
<circle cx="1275.1" cy="947.5" r="4.3"/>
<circle cx="1279.7" cy="932.3" r="4.3"/>
<circle cx="1278.1" cy="937.7" r="4.3"/>
<circle cx="1289.4" cy="957.6" r="4.3"/>
<circle cx="1310.2" cy="927.9" r="4.3"/>
<circle cx="1277.9" cy="986" r="4.3"/>
<circle cx="1262.7" cy="998" r="4.3"/>
<circle cx="1267.5" cy="989.4" r="4.3"/>
<circle cx="1283.9" cy="944.3" r="4.3"/>
<circle cx="1312.6" cy="896.5" r="4.3"/>
<circle cx="1278.4" cy="935.7" r="4.3"/>
<circle cx="1279.9" cy="979.8" r="4.3"/>
<circle cx="1296" cy="909.1" r="4.3"/>
<circle cx="1283.3" cy="937.8" r="4.3"/>
<circle cx="1267.4" cy="988" r="4.3"/>
<circle cx="1293.2" cy="901.8" r="4.3"/>
<circle cx="1297.2" cy="917.8" r="4.3"/>
<circle cx="1314.7" cy="910.8" r="4.3"/>
<circle cx="1310.1" cy="922.6" r="4.3"/>
<circle cx="1291.7" cy="914.1" r="4.3"/>
<circle cx="1323.6" cy="937.5" r="4.3"/>
<circle cx="1331.1" cy="897.7" r="4.3"/>
<circle cx="1289.2" cy="926.2" r="4.3"/>
<circle cx="1323.5" cy="923.5" r="4.3"/>
<circle cx="1280.3" cy="908.4" r="4.3"/>
<circle cx="1325.2" cy="907.3" r="4.3"/>
<circle cx="1280.7" cy="983.3" r="4.3"/>
<circle cx="1289.3" cy="977.8" r="4.3"/>
<circle cx="1292.3" cy="937.5" r="4.3"/>
<circle cx="1284.3" cy="949.8" r="4.3"/>
<circle cx="1280.4" cy="919.9" r="4.3"/>
<circle cx="1290.6" cy="911.5" r="4.3"/>
<circle cx="1285" cy="922.3" r="4.3"/>
<circle cx="1293.2" cy="965.7" r="4.3"/>
<circle cx="1281.7" cy="934.1" r="4.3"/>
<circle cx="1307.5" cy="952" r="4.3"/>
<circle cx="1266.2" cy="984.8" r="4.3"/>
<circle cx="1319.4" cy="895.8" r="4.3"/>
<circle cx="1266.7" cy="989.9" r="4.3"/>
<circle cx="1272.8" cy="969.6" r="4.3"/>
<circle cx="1267" cy="973.8" r="4.3"/>
<circle cx="1291.3" cy="972.2" r="4.3"/>
<circle cx="1283.4" cy="958.5" r="4.3"/>
<circle cx="1267.1" cy="987.1" r="4.3"/>
<circle cx="1313.8" cy="938.8" r="4.3"/>
<circle cx="1319.2" cy="905.4" r="4.3"/>
<circle cx="1281.3" cy="953.9" r="4.3"/>
<circle cx="1303.9" cy="940.7" r="4.3"/>
<circle cx="1301.8" cy="906.7" r="4.3"/>
<circle cx="1285.9" cy="915.7" r="4.3"/>
<circle cx="1319" cy="918" r="4.3"/>
<circle cx="1311.2" cy="903.9" r="4.3"/>
<circle cx="1265" cy="990" r="4.3"/>
<circle cx="1268.9" cy="987.6" r="4.3"/>
<circle cx="1343.7" cy="912.9" r="4.3"/>
<circle cx="1262.7" cy="996.4" r="4.3"/>
<circle cx="1276.4" cy="953.4" r="4.3"/>
<circle cx="1292.8" cy="965.2" r="4.3"/>
<circle cx="1276.5" cy="962.8" r="4.3"/>
<circle cx="1309.3" cy="900.3" r="4.3"/>
<circle cx="1301.4" cy="958.5" r="4.3"/>
<circle cx="1282.9" cy="913.3" r="4.3"/>
<circle cx="1367.6" cy="893.7" r="4.3"/>
<circle cx="1323.4" cy="903.6" r="4.3"/>
<circle cx="1317.2" cy="940" r="4.3"/>
<circle cx="1279.5" cy="974.9" r="4.3"/>
<circle cx="1282.3" cy="965" r="4.3"/>
<circle cx="1266.1" cy="996.9" r="4.3"/>
<circle cx="1278" cy="937.7" r="4.3"/>
<circle cx="1283.2" cy="971.8" r="4.3"/>
<circle cx="1300.8" cy="931.5" r="4.3"/>
<circle cx="1278.2" cy="980.7" r="4.3"/>
<circle cx="1305.1" cy="946.7" r="4.3"/>
<circle cx="1289.6" cy="942.8" r="4.3"/>
<circle cx="1322.1" cy="932.8" r="4.3"/>
<circle cx="1290.7" cy="909.8" r="4.3"/>
<circle cx="1274.2" cy="967.6" r="4.3"/>
<circle cx="1271.9" cy="989.1" r="4.3"/>
<circle cx="1283.8" cy="961.1" r="4.3"/>
<circle cx="1267.3" cy="991.2" r="4.3"/>
<circle cx="1326.5" cy="916" r="4.3"/>
<circle cx="1280.4" cy="964.6" r="4.3"/>
<circle cx="1268" cy="992.5" r="4.3"/>
<circle cx="1301.8" cy="908.5" r="4.3"/>
<circle cx="1302.7" cy="920" r="4.3"/>
<circle cx="1277.3" cy="987.3" r="4.3"/>
</g>
<g fill="#014f74" fill-opacity="0.9" stroke="#014f74" stroke-opacity="0.9" stroke-width="0.8">
<circle cx="1214.1" cy="630.7" r="3.9"/>
<circle cx="1204.1" cy="679.1" r="3.9"/>
<circle cx="1150.7" cy="706.9" r="3.9"/>
<circle cx="1144.4" cy="710.4" r="3.9"/>
<circle cx="1202.2" cy="720" r="3.9"/>
<circle cx="1112" cy="735.8" r="3.9"/>
<circle cx="1147.5" cy="757" r="3.9"/>
<circle cx="1144.6" cy="785.7" r="3.9"/>
<circle cx="1138.8" cy="795.9" r="3.9"/>
<circle cx="1145.8" cy="795.9" r="3.9"/>
<circle cx="1160.7" cy="797.3" r="3.9"/>
<circle cx="1179.4" cy="796.2" r="3.9"/>
<circle cx="1166.3" cy="806.6" r="3.9"/>
<circle cx="1128" cy="811.1" r="3.9"/>
<circle cx="1129.9" cy="825.6" r="3.9"/>
<circle cx="1145.9" cy="826.7" r="3.9"/>
<circle cx="1145.9" cy="834.8" r="3.9"/>
<circle cx="1145.1" cy="837.6" r="3.9"/>
<circle cx="1164.3" cy="824.5" r="3.9"/>
<circle cx="1160.4" cy="828.1" r="3.9"/>
<circle cx="1161.7" cy="831.6" r="3.9"/>
<circle cx="1172.1" cy="829.4" r="3.9"/>
<circle cx="1183.3" cy="831.6" r="3.9"/>
<circle cx="1192" cy="830.5" r="3.9"/>
<circle cx="1182.2" cy="842.8" r="3.9"/>
<circle cx="1187.2" cy="843.7" r="3.9"/>
<circle cx="1221.9" cy="806.6" r="3.9"/>
<circle cx="1222.8" cy="812.2" r="3.9"/>
<circle cx="1214.6" cy="820" r="3.9"/>
<circle cx="1230.8" cy="820.8" r="3.9"/>
<circle cx="1227.4" cy="829.2" r="3.9"/>
<circle cx="1227.4" cy="832" r="3.9"/>
<circle cx="1223.8" cy="844.5" r="3.9"/>
<circle cx="1149" cy="845.9" r="3.9"/>
<circle cx="1152" cy="852.9" r="3.9"/>
<circle cx="1155.4" cy="853.5" r="3.9"/>
<circle cx="1169" cy="852.9" r="3.9"/>
<circle cx="1143.4" cy="862.7" r="3.9"/>
<circle cx="1169.1" cy="865.5" r="3.9"/>
<circle cx="1163.4" cy="873.3" r="3.9"/>
<circle cx="1208.2" cy="855.8" r="3.9"/>
<circle cx="1233" cy="862.2" r="3.9"/>
<circle cx="1195.4" cy="870" r="3.9"/>
<circle cx="1213.5" cy="869.4" r="3.9"/>
<circle cx="1220.5" cy="868.9" r="3.9"/>
<circle cx="1229.7" cy="868.1" r="3.9"/>
<circle cx="1209" cy="873.3" r="3.9"/>
<circle cx="1211.2" cy="875" r="3.9"/>
<circle cx="1231" cy="875.6" r="3.9"/>
<circle cx="1174.9" cy="877.2" r="3.9"/>
<circle cx="1185.5" cy="880.4" r="3.9"/>
<circle cx="1178.8" cy="883.9" r="3.9"/>
<circle cx="1193.4" cy="883.4" r="3.9"/>
<circle cx="1193.1" cy="890.7" r="3.9"/>
<circle cx="1212.9" cy="888.4" r="3.9"/>
<circle cx="1210.7" cy="892.7" r="3.9"/>
<circle cx="1221.9" cy="888.6" r="3.9"/>
<circle cx="1229.7" cy="884.5" r="3.9"/>
<circle cx="1230" cy="886.7" r="3.9"/>
<circle cx="1237" cy="883.7" r="3.9"/>
</g>
<g fill="#ff0000" fill-opacity="0.9" stroke="#ff0000" stroke-opacity="0.9" stroke-width="0.8">
<circle cx="1338.8" cy="682.8" r="3.9"/>
<circle cx="1337.2" cy="713.3" r="3.9"/>
<circle cx="1340.6" cy="721.4" r="3.9"/>
<circle cx="1336.6" cy="741.7" r="3.9"/>
<circle cx="1310.9" cy="747.4" r="3.9"/>
<circle cx="1307.5" cy="768.7" r="3.9"/>
<circle cx="1369.5" cy="783.7" r="3.9"/>
<circle cx="1338.8" cy="786.5" r="3.9"/>
<circle cx="1339.6" cy="789.5" r="3.9"/>
<circle cx="1299.7" cy="790" r="3.9"/>
<circle cx="1308.7" cy="790" r="3.9"/>
<circle cx="1452" cy="788.3" r="3.9"/>
<circle cx="1316.7" cy="799" r="3.9"/>
<circle cx="1323.4" cy="802" r="3.9"/>
<circle cx="1371.7" cy="801.5" r="3.9"/>
<circle cx="1298.8" cy="810.7" r="3.9"/>
<circle cx="1314.1" cy="811.3" r="3.9"/>
<circle cx="1315.8" cy="815.5" r="3.9"/>
<circle cx="1304.6" cy="819.7" r="3.9"/>
<circle cx="1309.7" cy="820.4" r="3.9"/>
<circle cx="1349.1" cy="809.6" r="3.9"/>
<circle cx="1316.7" cy="842" r="3.9"/>
<circle cx="1338.4" cy="849" r="3.9"/>
<circle cx="1288.4" cy="855.4" r="3.9"/>
<circle cx="1286.8" cy="856.5" r="3.9"/>
<circle cx="1296.8" cy="856" r="3.9"/>
<circle cx="1297.9" cy="851" r="3.9"/>
<circle cx="1302.4" cy="852.6" r="3.9"/>
<circle cx="1306.3" cy="855.1" r="3.9"/>
<circle cx="1352.9" cy="860.7" r="3.9"/>
<circle cx="1310.4" cy="863.6" r="3.9"/>
<circle cx="1336.1" cy="865.5" r="3.9"/>
<circle cx="1303.2" cy="870.7" r="3.9"/>
<circle cx="1280" cy="876.1" r="3.9"/>
<circle cx="1327" cy="873.3" r="3.9"/>
<circle cx="1323.1" cy="878.1" r="3.9"/>
<circle cx="1287" cy="884.5" r="3.9"/>
<circle cx="1296.8" cy="880" r="3.9"/>
<circle cx="1295.7" cy="883.9" r="3.9"/>
<circle cx="1302.4" cy="882.8" r="3.9"/>
<circle cx="1304.6" cy="885" r="3.9"/>
<circle cx="1311.9" cy="881.1" r="3.9"/>
<circle cx="1315.3" cy="881.1" r="3.9"/>
<circle cx="1321.4" cy="885.6" r="3.9"/>
<circle cx="1320.8" cy="887.8" r="3.9"/>
<circle cx="1293.5" cy="890.1" r="3.9"/>
<circle cx="1299.6" cy="887.8" r="3.9"/>
<circle cx="1306.3" cy="892.3" r="3.9"/>
<circle cx="1324.7" cy="891.7" r="3.9"/>
<circle cx="1345.4" cy="890.4" r="3.9"/>
</g>
</g>
<rect x="1095.5" y="612.4" width="373.4" height="404.5" fill="none" stroke="#000" stroke-width="1.4"/>
<line x1="1153.4" x2="1153.4" y1="1016.9" y2="1027.9" stroke="#000" stroke-width="1.4"/>
<text x="1153.4" y="1043.7" font-size="17.5" text-anchor="middle" font-weight="normal" fill="#000">&#8722;1</text>
<line x1="1261.3" x2="1261.3" y1="1016.9" y2="1027.9" stroke="#000" stroke-width="1.4"/>
<text x="1261.3" y="1043.7" font-size="17.5" text-anchor="middle" font-weight="normal" fill="#000">0</text>
<line x1="1369.2" x2="1369.2" y1="1016.9" y2="1027.9" stroke="#000" stroke-width="1.4"/>
<text x="1369.2" y="1043.7" font-size="17.5" text-anchor="middle" font-weight="normal" fill="#000">1</text>
<line x1="1084.2" x2="1095.5" y1="998.8" y2="998.8" stroke="#000" stroke-width="1.4"/>
<text x="1080.5" y="1005" font-size="17.5" text-anchor="end" font-weight="normal" fill="#000">0</text>
<line x1="1084.2" x2="1095.5" y1="917.3" y2="917.3" stroke="#000" stroke-width="1.4"/>
<text x="1080.5" y="923.5" font-size="17.5" text-anchor="end" font-weight="normal" fill="#000">1</text>
<line x1="1084.2" x2="1095.5" y1="835.8" y2="835.8" stroke="#000" stroke-width="1.4"/>
<text x="1080.5" y="842" font-size="17.5" text-anchor="end" font-weight="normal" fill="#000">2</text>
<line x1="1084.2" x2="1095.5" y1="754.3" y2="754.3" stroke="#000" stroke-width="1.4"/>
<text x="1080.5" y="760.5" font-size="17.5" text-anchor="end" font-weight="normal" fill="#000">3</text>
<line x1="1084.2" x2="1095.5" y1="672.8" y2="672.8" stroke="#000" stroke-width="1.4"/>
<text x="1080.5" y="679" font-size="17.5" text-anchor="end" font-weight="normal" fill="#000">4</text>
<text x="1095.5" y="598.3" font-size="26.8" text-anchor="start" font-weight="bold" fill="#000">IBD genes, HRZE</text>
<text x="1282.2" y="1067.7" font-size="22.5" text-anchor="middle" font-weight="normal" fill="#000">Log2 Fold Change (Post/Pre)</text>
<text x="0" y="0" font-size="23" text-anchor="middle" transform="translate(1061.7 834) rotate(-90)">&#8722;Log10 FDR</text>
<clipPath id="vpE"><rect x="1635.5" y="613" width="372.4" height="403"/></clipPath>
<g clip-path="url(#vpE)">
<g fill="#000" fill-opacity="0.125">
<circle cx="1973.8" cy="872.8" r="4.3"/>
<circle cx="1971.8" cy="880.8" r="4.3"/>
<circle cx="1917.9" cy="872.8" r="4.3"/>
<circle cx="1902.8" cy="873.1" r="4.3"/>
<circle cx="1904" cy="876.8" r="4.3"/>
<circle cx="1901" cy="883.2" r="4.3"/>
<circle cx="1907.7" cy="883.5" r="4.3"/>
<circle cx="1883.6" cy="888" r="4.3"/>
<circle cx="1941.3" cy="887.2" r="4.3"/>
<circle cx="1669" cy="887.5" r="4.3"/>
<circle cx="1654.6" cy="938.5" r="4.3"/>
<circle cx="1683" cy="922.6" r="4.3"/>
<circle cx="1693.9" cy="943.2" r="4.3"/>
<circle cx="1694.7" cy="874.9" r="4.3"/>
<circle cx="1699.1" cy="898.4" r="4.3"/>
<circle cx="1705.1" cy="957.8" r="4.3"/>
<circle cx="1711.8" cy="961.7" r="4.3"/>
<circle cx="1745.9" cy="982" r="4.3"/>
<circle cx="1757" cy="983.5" r="4.3"/>
<circle cx="1733.8" cy="972" r="4.3"/>
<circle cx="1992.1" cy="912" r="4.3"/>
<circle cx="1949.8" cy="930.2" r="4.3"/>
<circle cx="1938.6" cy="944.5" r="4.3"/>
<circle cx="1936.4" cy="979.8" r="4.3"/>
<circle cx="1901.5" cy="986.8" r="4.3"/>
<circle cx="1912.3" cy="983.5" r="4.3"/>
<circle cx="1908.6" cy="980.3" r="4.3"/>
<circle cx="1921" cy="937.6" r="4.3"/>
<circle cx="1920.1" cy="959.3" r="4.3"/>
<circle cx="1916.4" cy="953.8" r="4.3"/>
<circle cx="1921.9" cy="894.3" r="4.3"/>
<circle cx="1925.3" cy="904.6" r="4.3"/>
<circle cx="1926" cy="909.2" r="4.3"/>
<circle cx="1913.9" cy="898.6" r="4.3"/>
<circle cx="1884" cy="888.8" r="4.3"/>
<circle cx="1887.6" cy="896.2" r="4.3"/>
<circle cx="1806.6" cy="977.5" r="4.3"/>
<circle cx="1746.2" cy="898" r="4.3"/>
<circle cx="1762.2" cy="934.4" r="4.3"/>
<circle cx="1817.8" cy="989.5" r="4.3"/>
<circle cx="1754.8" cy="969.2" r="4.3"/>
<circle cx="1793.5" cy="921.1" r="4.3"/>
<circle cx="1711.5" cy="935.7" r="4.3"/>
<circle cx="1737.4" cy="896.5" r="4.3"/>
<circle cx="1782.2" cy="941.1" r="4.3"/>
<circle cx="1831.8" cy="993.7" r="4.3"/>
<circle cx="1732.1" cy="901" r="4.3"/>
<circle cx="1770.8" cy="901.9" r="4.3"/>
<circle cx="1824" cy="983.7" r="4.3"/>
<circle cx="1672.3" cy="887" r="4.3"/>
<circle cx="1801.3" cy="941.6" r="4.3"/>
<circle cx="1815.8" cy="985.1" r="4.3"/>
<circle cx="1786.5" cy="936.1" r="4.3"/>
<circle cx="1769.7" cy="921.5" r="4.3"/>
<circle cx="1795.5" cy="976.4" r="4.3"/>
<circle cx="1765.5" cy="923.6" r="4.3"/>
<circle cx="1818.6" cy="989.8" r="4.3"/>
<circle cx="1723.7" cy="912.5" r="4.3"/>
<circle cx="1716.5" cy="946.3" r="4.3"/>
<circle cx="1783.7" cy="937" r="4.3"/>
<circle cx="1740.7" cy="888.5" r="4.3"/>
<circle cx="1792.5" cy="937.5" r="4.3"/>
<circle cx="1792.7" cy="966.2" r="4.3"/>
<circle cx="1774" cy="955" r="4.3"/>
<circle cx="1767.4" cy="905.3" r="4.3"/>
<circle cx="1758.9" cy="906.8" r="4.3"/>
<circle cx="1727.7" cy="892.4" r="4.3"/>
<circle cx="1771.6" cy="924.9" r="4.3"/>
<circle cx="1768.4" cy="932.2" r="4.3"/>
<circle cx="1742.9" cy="878.4" r="4.3"/>
<circle cx="1731" cy="917.4" r="4.3"/>
<circle cx="1712.2" cy="877.5" r="4.3"/>
<circle cx="1816.1" cy="986.4" r="4.3"/>
<circle cx="1740.7" cy="889" r="4.3"/>
<circle cx="1772.4" cy="930.8" r="4.3"/>
<circle cx="1790.5" cy="976.1" r="4.3"/>
<circle cx="1716.4" cy="930" r="4.3"/>
<circle cx="1776.8" cy="898.9" r="4.3"/>
<circle cx="1823.7" cy="990.6" r="4.3"/>
<circle cx="1768.4" cy="910.9" r="4.3"/>
<circle cx="1788.2" cy="949.4" r="4.3"/>
<circle cx="1728.9" cy="929.3" r="4.3"/>
<circle cx="1787.4" cy="923.3" r="4.3"/>
<circle cx="1754.4" cy="910.3" r="4.3"/>
<circle cx="1815.5" cy="990.3" r="4.3"/>
<circle cx="1722.6" cy="873.5" r="4.3"/>
<circle cx="1816.4" cy="988.7" r="4.3"/>
<circle cx="1834.6" cy="995.7" r="4.3"/>
<circle cx="1777.9" cy="933.4" r="4.3"/>
<circle cx="1761.2" cy="944.9" r="4.3"/>
<circle cx="1750.8" cy="895.6" r="4.3"/>
<circle cx="1736.7" cy="936.1" r="4.3"/>
<circle cx="1825.8" cy="987.7" r="4.3"/>
<circle cx="1787.1" cy="899.6" r="4.3"/>
<circle cx="1723.4" cy="914.2" r="4.3"/>
<circle cx="1760.5" cy="883.5" r="4.3"/>
<circle cx="1675.3" cy="895.1" r="4.3"/>
<circle cx="1779.5" cy="959.6" r="4.3"/>
<circle cx="1740.3" cy="929.8" r="4.3"/>
<circle cx="1779.1" cy="941.3" r="4.3"/>
<circle cx="1745.9" cy="909.3" r="4.3"/>
<circle cx="1803.6" cy="965.6" r="4.3"/>
<circle cx="1782.6" cy="966.4" r="4.3"/>
<circle cx="1769.6" cy="923.8" r="4.3"/>
<circle cx="1769.4" cy="879.6" r="4.3"/>
<circle cx="1806.2" cy="977" r="4.3"/>
<circle cx="1795.4" cy="975.4" r="4.3"/>
<circle cx="1791.5" cy="909.8" r="4.3"/>
<circle cx="1832.8" cy="993.7" r="4.3"/>
<circle cx="1757.6" cy="930.3" r="4.3"/>
<circle cx="1747.6" cy="942.1" r="4.3"/>
<circle cx="1704.3" cy="894.9" r="4.3"/>
<circle cx="1810.6" cy="975.2" r="4.3"/>
<circle cx="1687.5" cy="891.7" r="4.3"/>
<circle cx="1837" cy="997.3" r="4.3"/>
<circle cx="1771.6" cy="903" r="4.3"/>
<circle cx="1771.3" cy="894.7" r="4.3"/>
<circle cx="1771.2" cy="956.6" r="4.3"/>
<circle cx="1800.5" cy="961.3" r="4.3"/>
<circle cx="1757.7" cy="933.7" r="4.3"/>
<circle cx="1782" cy="963.7" r="4.3"/>
<circle cx="1752.7" cy="916.5" r="4.3"/>
<circle cx="1767.9" cy="880.8" r="4.3"/>
<circle cx="1790.7" cy="933" r="4.3"/>
<circle cx="1781.1" cy="970.9" r="4.3"/>
<circle cx="1804" cy="976" r="4.3"/>
<circle cx="1788.2" cy="979" r="4.3"/>
<circle cx="1804.3" cy="970" r="4.3"/>
<circle cx="1697.4" cy="930.3" r="4.3"/>
<circle cx="1692.8" cy="880.4" r="4.3"/>
<circle cx="1791.4" cy="954.3" r="4.3"/>
<circle cx="1817.6" cy="978" r="4.3"/>
<circle cx="1720.5" cy="886.4" r="4.3"/>
<circle cx="1764.7" cy="904.9" r="4.3"/>
<circle cx="1823.4" cy="987.2" r="4.3"/>
<circle cx="1783" cy="953.1" r="4.3"/>
<circle cx="1772.7" cy="945.1" r="4.3"/>
<circle cx="1820" cy="984.9" r="4.3"/>
<circle cx="1758.1" cy="885.7" r="4.3"/>
<circle cx="1724.6" cy="916.8" r="4.3"/>
<circle cx="1755.5" cy="916" r="4.3"/>
<circle cx="1771.4" cy="965" r="4.3"/>
<circle cx="1828.6" cy="994.5" r="4.3"/>
<circle cx="1783.6" cy="906.4" r="4.3"/>
<circle cx="1735.7" cy="948.3" r="4.3"/>
<circle cx="1759.7" cy="873.2" r="4.3"/>
<circle cx="1736.9" cy="906.6" r="4.3"/>
<circle cx="1736.8" cy="894.4" r="4.3"/>
<circle cx="1786.9" cy="949.1" r="4.3"/>
<circle cx="1786.6" cy="904.2" r="4.3"/>
<circle cx="1728.4" cy="900.4" r="4.3"/>
<circle cx="1681.4" cy="886.5" r="4.3"/>
<circle cx="1723.4" cy="918.6" r="4.3"/>
<circle cx="1751.7" cy="961.8" r="4.3"/>
<circle cx="1765.5" cy="935.7" r="4.3"/>
<circle cx="1771.6" cy="917" r="4.3"/>
<circle cx="1791.1" cy="980.6" r="4.3"/>
<circle cx="1738.1" cy="887.4" r="4.3"/>
<circle cx="1770.1" cy="905.7" r="4.3"/>
<circle cx="1772.7" cy="950.9" r="4.3"/>
<circle cx="1791.9" cy="952.1" r="4.3"/>
<circle cx="1778.7" cy="934.9" r="4.3"/>
<circle cx="1836.1" cy="996.3" r="4.3"/>
<circle cx="1721.1" cy="925.5" r="4.3"/>
<circle cx="1798.8" cy="977.7" r="4.3"/>
<circle cx="1826.3" cy="992.9" r="4.3"/>
<circle cx="1743.9" cy="920.5" r="4.3"/>
<circle cx="1803.7" cy="984.7" r="4.3"/>
<circle cx="1799.5" cy="973.4" r="4.3"/>
<circle cx="1747.4" cy="923.3" r="4.3"/>
<circle cx="1743.6" cy="925.9" r="4.3"/>
<circle cx="1782.5" cy="961.7" r="4.3"/>
<circle cx="1773.9" cy="952.3" r="4.3"/>
<circle cx="1747.7" cy="901.2" r="4.3"/>
<circle cx="1673.1" cy="881.9" r="4.3"/>
<circle cx="1790" cy="932.2" r="4.3"/>
<circle cx="1764.8" cy="914.9" r="4.3"/>
<circle cx="1789.5" cy="962.7" r="4.3"/>
<circle cx="1747.1" cy="898.5" r="4.3"/>
<circle cx="1740.3" cy="915.3" r="4.3"/>
<circle cx="1757.9" cy="951.2" r="4.3"/>
<circle cx="1787.2" cy="938.7" r="4.3"/>
<circle cx="1806.5" cy="973.5" r="4.3"/>
<circle cx="1727.6" cy="883.6" r="4.3"/>
<circle cx="1834" cy="994.2" r="4.3"/>
<circle cx="1769.7" cy="969.1" r="4.3"/>
<circle cx="1771.4" cy="905.6" r="4.3"/>
<circle cx="1704.1" cy="893" r="4.3"/>
<circle cx="1744.1" cy="957.8" r="4.3"/>
<circle cx="1710.5" cy="899.9" r="4.3"/>
<circle cx="1747.5" cy="887.5" r="4.3"/>
<circle cx="1717.3" cy="876" r="4.3"/>
<circle cx="1758.6" cy="919.9" r="4.3"/>
<circle cx="1778.9" cy="903.6" r="4.3"/>
<circle cx="1702.6" cy="885" r="4.3"/>
<circle cx="1763.2" cy="933.7" r="4.3"/>
<circle cx="1775.7" cy="944.8" r="4.3"/>
<circle cx="1801.4" cy="981.4" r="4.3"/>
<circle cx="1765.2" cy="941.2" r="4.3"/>
<circle cx="1769.3" cy="934.9" r="4.3"/>
<circle cx="1771" cy="908.8" r="4.3"/>
<circle cx="1784" cy="953.6" r="4.3"/>
<circle cx="1746.9" cy="874.7" r="4.3"/>
<circle cx="1700.1" cy="892.3" r="4.3"/>
<circle cx="1766.3" cy="880.7" r="4.3"/>
<circle cx="1766.9" cy="899.8" r="4.3"/>
<circle cx="1807.3" cy="978.7" r="4.3"/>
<circle cx="1796.6" cy="976.5" r="4.3"/>
<circle cx="1721.3" cy="892" r="4.3"/>
<circle cx="1804.7" cy="986.2" r="4.3"/>
<circle cx="1786.4" cy="967.1" r="4.3"/>
<circle cx="1787.6" cy="904.1" r="4.3"/>
<circle cx="1786.6" cy="959.6" r="4.3"/>
<circle cx="1831.9" cy="987.8" r="4.3"/>
<circle cx="1775.7" cy="940.8" r="4.3"/>
<circle cx="1703.2" cy="873.9" r="4.3"/>
<circle cx="1819.8" cy="988.3" r="4.3"/>
<circle cx="1768.1" cy="930.2" r="4.3"/>
<circle cx="1726.5" cy="908" r="4.3"/>
<circle cx="1725.9" cy="919.7" r="4.3"/>
<circle cx="1772.7" cy="876.3" r="4.3"/>
<circle cx="1745.6" cy="948.8" r="4.3"/>
<circle cx="1806.6" cy="975.2" r="4.3"/>
<circle cx="1734.9" cy="884.1" r="4.3"/>
<circle cx="1782.7" cy="958.8" r="4.3"/>
<circle cx="1763.4" cy="931.5" r="4.3"/>
<circle cx="1796.7" cy="972.9" r="4.3"/>
<circle cx="1691.7" cy="915.8" r="4.3"/>
<circle cx="1766.5" cy="912.1" r="4.3"/>
<circle cx="1774.7" cy="902.7" r="4.3"/>
<circle cx="1800.7" cy="964.1" r="4.3"/>
<circle cx="1819.6" cy="986.3" r="4.3"/>
<circle cx="1774.7" cy="904" r="4.3"/>
<circle cx="1722" cy="888.8" r="4.3"/>
<circle cx="1820.9" cy="984.3" r="4.3"/>
<circle cx="1714.5" cy="910.7" r="4.3"/>
<circle cx="1738.8" cy="875.7" r="4.3"/>
<circle cx="1740" cy="912" r="4.3"/>
<circle cx="1755.9" cy="911.1" r="4.3"/>
<circle cx="1782" cy="972.2" r="4.3"/>
<circle cx="1773.5" cy="880.3" r="4.3"/>
<circle cx="1744.5" cy="886.1" r="4.3"/>
<circle cx="1784.7" cy="952.3" r="4.3"/>
<circle cx="1728.4" cy="878.3" r="4.3"/>
<circle cx="1773.2" cy="956.5" r="4.3"/>
<circle cx="1769.6" cy="922.7" r="4.3"/>
<circle cx="1803.8" cy="986.9" r="4.3"/>
<circle cx="1751" cy="923.4" r="4.3"/>
<circle cx="1754.6" cy="895.3" r="4.3"/>
<circle cx="1742.1" cy="924.2" r="4.3"/>
<circle cx="1750.2" cy="947.5" r="4.3"/>
<circle cx="1774.2" cy="934.1" r="4.3"/>
<circle cx="1763.7" cy="955.8" r="4.3"/>
<circle cx="1771.1" cy="898.3" r="4.3"/>
<circle cx="1780.6" cy="907.6" r="4.3"/>
<circle cx="1790.6" cy="967.6" r="4.3"/>
<circle cx="1764.6" cy="957.8" r="4.3"/>
<circle cx="1783.1" cy="901.8" r="4.3"/>
<circle cx="1773.6" cy="947" r="4.3"/>
<circle cx="1804.7" cy="965.3" r="4.3"/>
<circle cx="1782.2" cy="899.3" r="4.3"/>
<circle cx="1785.1" cy="951.9" r="4.3"/>
<circle cx="1736.2" cy="884.8" r="4.3"/>
<circle cx="1802.5" cy="963.5" r="4.3"/>
<circle cx="1821.5" cy="988.5" r="4.3"/>
<circle cx="1789.6" cy="937.9" r="4.3"/>
<circle cx="1777.4" cy="957.2" r="4.3"/>
<circle cx="1771.7" cy="929.5" r="4.3"/>
<circle cx="1791.5" cy="918.6" r="4.3"/>
<circle cx="1747.8" cy="884.3" r="4.3"/>
<circle cx="1790" cy="897.9" r="4.3"/>
<circle cx="1774.8" cy="946.7" r="4.3"/>
<circle cx="1785.9" cy="973.5" r="4.3"/>
<circle cx="1745.4" cy="922.5" r="4.3"/>
<circle cx="1747.4" cy="881.2" r="4.3"/>
<circle cx="1755.2" cy="873.5" r="4.3"/>
<circle cx="1747.2" cy="893.1" r="4.3"/>
<circle cx="1759" cy="951.6" r="4.3"/>
<circle cx="1835.4" cy="996.3" r="4.3"/>
<circle cx="1761.8" cy="925.2" r="4.3"/>
<circle cx="1717.1" cy="909" r="4.3"/>
<circle cx="1821.3" cy="991.8" r="4.3"/>
<circle cx="1725.5" cy="908" r="4.3"/>
<circle cx="1783.8" cy="964.9" r="4.3"/>
<circle cx="1740.5" cy="932.6" r="4.3"/>
<circle cx="1698.7" cy="899.5" r="4.3"/>
<circle cx="1760.1" cy="938" r="4.3"/>
<circle cx="1743.1" cy="892.1" r="4.3"/>
<circle cx="1785.8" cy="970.8" r="4.3"/>
<circle cx="1771.7" cy="879.7" r="4.3"/>
<circle cx="1769.4" cy="938.4" r="4.3"/>
<circle cx="1827.4" cy="992.9" r="4.3"/>
<circle cx="1771.5" cy="970.9" r="4.3"/>
<circle cx="1673.8" cy="892.1" r="4.3"/>
<circle cx="1815.7" cy="982.7" r="4.3"/>
<circle cx="1777.4" cy="951.1" r="4.3"/>
<circle cx="1792" cy="974.4" r="4.3"/>
<circle cx="1793.8" cy="964.9" r="4.3"/>
<circle cx="1782.6" cy="925.6" r="4.3"/>
<circle cx="1837.5" cy="997.1" r="4.3"/>
<circle cx="1725" cy="897.1" r="4.3"/>
<circle cx="1735.9" cy="893.7" r="4.3"/>
<circle cx="1720.3" cy="917" r="4.3"/>
<circle cx="1767.8" cy="937.4" r="4.3"/>
<circle cx="1775.9" cy="944.9" r="4.3"/>
<circle cx="1784.7" cy="967.7" r="4.3"/>
<circle cx="1829.2" cy="990" r="4.3"/>
<circle cx="1735.3" cy="909.3" r="4.3"/>
<circle cx="1751.8" cy="938.7" r="4.3"/>
<circle cx="1756" cy="907.7" r="4.3"/>
<circle cx="1728.2" cy="951.5" r="4.3"/>
<circle cx="1777" cy="889.6" r="4.3"/>
<circle cx="1755.3" cy="938.4" r="4.3"/>
<circle cx="1718.2" cy="895.3" r="4.3"/>
<circle cx="1785.2" cy="951.4" r="4.3"/>
<circle cx="1757.4" cy="915.8" r="4.3"/>
<circle cx="1811.6" cy="984.2" r="4.3"/>
<circle cx="1800.5" cy="971.3" r="4.3"/>
<circle cx="1826.5" cy="989.5" r="4.3"/>
<circle cx="1839.7" cy="997.2" r="4.3"/>
<circle cx="1773.6" cy="936.3" r="4.3"/>
<circle cx="1820.3" cy="972.6" r="4.3"/>
<circle cx="1779.8" cy="872.9" r="4.3"/>
<circle cx="1738" cy="958.9" r="4.3"/>
<circle cx="1739.1" cy="874.1" r="4.3"/>
<circle cx="1746.2" cy="948.2" r="4.3"/>
<circle cx="1780.1" cy="927.7" r="4.3"/>
<circle cx="1770.7" cy="876" r="4.3"/>
<circle cx="1765.9" cy="917.6" r="4.3"/>
<circle cx="1802.3" cy="953.8" r="4.3"/>
<circle cx="1812.4" cy="986.3" r="4.3"/>
<circle cx="1739" cy="887.7" r="4.3"/>
<circle cx="1719.3" cy="890.7" r="4.3"/>
<circle cx="1717.9" cy="906.6" r="4.3"/>
<circle cx="1786.1" cy="954.6" r="4.3"/>
<circle cx="1732.6" cy="907.3" r="4.3"/>
<circle cx="1769.9" cy="922.2" r="4.3"/>
<circle cx="1802.2" cy="980.4" r="4.3"/>
<circle cx="1774.4" cy="943.6" r="4.3"/>
<circle cx="1802.4" cy="990.3" r="4.3"/>
<circle cx="1778.6" cy="938.6" r="4.3"/>
<circle cx="1758.6" cy="943.1" r="4.3"/>
<circle cx="1779.7" cy="945.9" r="4.3"/>
<circle cx="1759.8" cy="920.6" r="4.3"/>
<circle cx="1708.7" cy="888.4" r="4.3"/>
<circle cx="1687.1" cy="943" r="4.3"/>
<circle cx="1659.9" cy="882.3" r="4.3"/>
<circle cx="1786.7" cy="972.2" r="4.3"/>
<circle cx="1805.6" cy="990.3" r="4.3"/>
<circle cx="1759.9" cy="940.6" r="4.3"/>
<circle cx="1796.6" cy="932.2" r="4.3"/>
<circle cx="1729.3" cy="899" r="4.3"/>
<circle cx="1804.6" cy="955" r="4.3"/>
<circle cx="1765.9" cy="875.3" r="4.3"/>
<circle cx="1747.8" cy="892.4" r="4.3"/>
<circle cx="1751.9" cy="943.1" r="4.3"/>
<circle cx="1736.5" cy="885.2" r="4.3"/>
<circle cx="1755.2" cy="906.4" r="4.3"/>
<circle cx="1718.9" cy="937.3" r="4.3"/>
<circle cx="1770.4" cy="894.6" r="4.3"/>
<circle cx="1772.6" cy="954.1" r="4.3"/>
<circle cx="1760.1" cy="902.3" r="4.3"/>
<circle cx="1760.5" cy="925.7" r="4.3"/>
<circle cx="1765.8" cy="915.5" r="4.3"/>
<circle cx="1798.4" cy="965" r="4.3"/>
<circle cx="1791.7" cy="967.5" r="4.3"/>
<circle cx="1753.1" cy="915.5" r="4.3"/>
<circle cx="1733.7" cy="882.1" r="4.3"/>
<circle cx="1819.9" cy="985.9" r="4.3"/>
<circle cx="1753.4" cy="933.8" r="4.3"/>
<circle cx="1789.4" cy="972" r="4.3"/>
<circle cx="1822.4" cy="993.9" r="4.3"/>
<circle cx="1784.7" cy="924.7" r="4.3"/>
<circle cx="1790.1" cy="944.1" r="4.3"/>
<circle cx="1772.5" cy="887.6" r="4.3"/>
<circle cx="1820.4" cy="987.8" r="4.3"/>
<circle cx="1763.6" cy="969.9" r="4.3"/>
<circle cx="1749.9" cy="949.1" r="4.3"/>
<circle cx="1797.2" cy="934.5" r="4.3"/>
<circle cx="1735.9" cy="941.1" r="4.3"/>
<circle cx="1744.7" cy="931.7" r="4.3"/>
<circle cx="1779.4" cy="942.5" r="4.3"/>
<circle cx="1663" cy="877.2" r="4.3"/>
<circle cx="1770.2" cy="922.8" r="4.3"/>
<circle cx="1774.5" cy="932.5" r="4.3"/>
<circle cx="1751" cy="882.6" r="4.3"/>
<circle cx="1755.5" cy="962.7" r="4.3"/>
<circle cx="1741.9" cy="889.4" r="4.3"/>
<circle cx="1673" cy="924" r="4.3"/>
<circle cx="1776" cy="923.4" r="4.3"/>
<circle cx="1702.3" cy="928.9" r="4.3"/>
<circle cx="1792.5" cy="956.7" r="4.3"/>
<circle cx="1813" cy="979.8" r="4.3"/>
<circle cx="1673.8" cy="881.9" r="4.3"/>
<circle cx="1806.1" cy="962.1" r="4.3"/>
<circle cx="1820.1" cy="987.7" r="4.3"/>
<circle cx="1907" cy="879.7" r="4.3"/>
<circle cx="1852.7" cy="990.2" r="4.3"/>
<circle cx="1908.1" cy="889.9" r="4.3"/>
<circle cx="1921.5" cy="882.2" r="4.3"/>
<circle cx="1918.5" cy="917.7" r="4.3"/>
<circle cx="1857.9" cy="983.5" r="4.3"/>
<circle cx="1906.2" cy="881.7" r="4.3"/>
<circle cx="1879.7" cy="933.5" r="4.3"/>
<circle cx="1866.9" cy="970.7" r="4.3"/>
<circle cx="1892" cy="900" r="4.3"/>
<circle cx="1847" cy="996.8" r="4.3"/>
<circle cx="1874.1" cy="945.6" r="4.3"/>
<circle cx="1899.3" cy="885.6" r="4.3"/>
<circle cx="1879.6" cy="934.2" r="4.3"/>
<circle cx="1884.8" cy="923.8" r="4.3"/>
<circle cx="1872.2" cy="957.1" r="4.3"/>
<circle cx="1892" cy="881.3" r="4.3"/>
<circle cx="1860.9" cy="985.8" r="4.3"/>
<circle cx="1866.4" cy="969.8" r="4.3"/>
<circle cx="1899" cy="904.6" r="4.3"/>
<circle cx="1902.2" cy="920.9" r="4.3"/>
<circle cx="1865" cy="952" r="4.3"/>
<circle cx="1864.7" cy="944.2" r="4.3"/>
<circle cx="1880.3" cy="914.8" r="4.3"/>
<circle cx="1901.2" cy="906.8" r="4.3"/>
<circle cx="1877.6" cy="947" r="4.3"/>
<circle cx="1854.8" cy="985.9" r="4.3"/>
<circle cx="1909.2" cy="878.1" r="4.3"/>
<circle cx="1862.6" cy="981.7" r="4.3"/>
<circle cx="1852.4" cy="992.7" r="4.3"/>
<circle cx="1865.1" cy="967.2" r="4.3"/>
<circle cx="1869.9" cy="963" r="4.3"/>
<circle cx="1856.2" cy="982.8" r="4.3"/>
<circle cx="1866.4" cy="952.6" r="4.3"/>
<circle cx="1872.3" cy="976.8" r="4.3"/>
<circle cx="1910.3" cy="927.4" r="4.3"/>
<circle cx="1897.4" cy="934.2" r="4.3"/>
<circle cx="1840.2" cy="997.3" r="4.3"/>
<circle cx="1901.9" cy="897.4" r="4.3"/>
<circle cx="1909.5" cy="894.3" r="4.3"/>
<circle cx="1868.3" cy="963.2" r="4.3"/>
<circle cx="1866.1" cy="941.4" r="4.3"/>
<circle cx="1883.1" cy="946.3" r="4.3"/>
<circle cx="1894.7" cy="945.1" r="4.3"/>
<circle cx="1912.3" cy="877.5" r="4.3"/>
<circle cx="1864.4" cy="961.7" r="4.3"/>
<circle cx="1860.2" cy="986.9" r="4.3"/>
<circle cx="1925.7" cy="878.1" r="4.3"/>
<circle cx="1887.5" cy="894.2" r="4.3"/>
<circle cx="1900.7" cy="879.8" r="4.3"/>
<circle cx="1901.7" cy="900.7" r="4.3"/>
<circle cx="1921.3" cy="882.2" r="4.3"/>
<circle cx="1884.5" cy="932" r="4.3"/>
<circle cx="1889.2" cy="914.7" r="4.3"/>
<circle cx="1885.3" cy="926.3" r="4.3"/>
<circle cx="1907.9" cy="884.6" r="4.3"/>
<circle cx="1873.4" cy="970.3" r="4.3"/>
<circle cx="1880.9" cy="950.8" r="4.3"/>
<circle cx="1893.3" cy="903.3" r="4.3"/>
<circle cx="1864.5" cy="963.8" r="4.3"/>
<circle cx="1881.2" cy="945.6" r="4.3"/>
<circle cx="1861.1" cy="989.6" r="4.3"/>
<circle cx="1909.9" cy="901.4" r="4.3"/>
<circle cx="1846.9" cy="995.3" r="4.3"/>
<circle cx="1890.3" cy="886.2" r="4.3"/>
<circle cx="1888" cy="920.5" r="4.3"/>
<circle cx="1870.1" cy="965.4" r="4.3"/>
<circle cx="1878.3" cy="953.2" r="4.3"/>
<circle cx="1869.4" cy="952.4" r="4.3"/>
<circle cx="1886.4" cy="936.2" r="4.3"/>
<circle cx="1899.1" cy="920.3" r="4.3"/>
<circle cx="1858.1" cy="986.4" r="4.3"/>
<circle cx="1884.6" cy="940.5" r="4.3"/>
<circle cx="1854.6" cy="980.3" r="4.3"/>
<circle cx="1877.6" cy="937" r="4.3"/>
<circle cx="1890.2" cy="905.8" r="4.3"/>
<circle cx="1886.2" cy="937.1" r="4.3"/>
<circle cx="1847.8" cy="996.1" r="4.3"/>
<circle cx="1910.1" cy="907.7" r="4.3"/>
<circle cx="1851.1" cy="990.4" r="4.3"/>
<circle cx="1869.4" cy="976.8" r="4.3"/>
<circle cx="1896.2" cy="882.1" r="4.3"/>
<circle cx="1851.1" cy="992.5" r="4.3"/>
<circle cx="1882.1" cy="947.9" r="4.3"/>
<circle cx="1871.3" cy="953.9" r="4.3"/>
<circle cx="1908.5" cy="895.2" r="4.3"/>
<circle cx="1848.9" cy="995.5" r="4.3"/>
<circle cx="1863.2" cy="968.6" r="4.3"/>
<circle cx="1861.8" cy="980.4" r="4.3"/>
<circle cx="1886.2" cy="940.3" r="4.3"/>
<circle cx="1881.1" cy="884.2" r="4.3"/>
<circle cx="1855.6" cy="986.8" r="4.3"/>
<circle cx="1874.1" cy="952.9" r="4.3"/>
<circle cx="1863.9" cy="962.5" r="4.3"/>
<circle cx="1901.6" cy="905.2" r="4.3"/>
<circle cx="1893.6" cy="902.7" r="4.3"/>
<circle cx="1877" cy="953.7" r="4.3"/>
<circle cx="1900.4" cy="909.9" r="4.3"/>
<circle cx="1860.8" cy="971.3" r="4.3"/>
<circle cx="1879.5" cy="951.9" r="4.3"/>
<circle cx="1889" cy="961.3" r="4.3"/>
<circle cx="1923.4" cy="913.8" r="4.3"/>
<circle cx="1876.8" cy="902.7" r="4.3"/>
<circle cx="1854.8" cy="989.1" r="4.3"/>
<circle cx="1907.7" cy="900" r="4.3"/>
<circle cx="1872" cy="966.4" r="4.3"/>
<circle cx="1891.7" cy="924.9" r="4.3"/>
<circle cx="1895.2" cy="909.8" r="4.3"/>
<circle cx="1853.8" cy="990.4" r="4.3"/>
<circle cx="1881.8" cy="918.5" r="4.3"/>
<circle cx="1860.4" cy="971.9" r="4.3"/>
<circle cx="1858.2" cy="988.9" r="4.3"/>
<circle cx="1904.5" cy="882.7" r="4.3"/>
<circle cx="1851.1" cy="991.9" r="4.3"/>
<circle cx="1840.3" cy="998.8" r="4.3"/>
<circle cx="1868.3" cy="952.1" r="4.3"/>
<circle cx="1881.2" cy="945.9" r="4.3"/>
<circle cx="1847.3" cy="995.7" r="4.3"/>
<circle cx="1876.2" cy="940.5" r="4.3"/>
<circle cx="1899.9" cy="922.1" r="4.3"/>
<circle cx="1892.3" cy="936.7" r="4.3"/>
<circle cx="1848.2" cy="992.6" r="4.3"/>
<circle cx="1854.6" cy="992.9" r="4.3"/>
<circle cx="1859.7" cy="977.8" r="4.3"/>
<circle cx="1857.4" cy="973.2" r="4.3"/>
<circle cx="1860.4" cy="976.3" r="4.3"/>
<circle cx="1862.5" cy="975.4" r="4.3"/>
<circle cx="1899.4" cy="913.2" r="4.3"/>
<circle cx="1871" cy="958.7" r="4.3"/>
<circle cx="1892.5" cy="872.2" r="4.3"/>
<circle cx="1881.7" cy="956.8" r="4.3"/>
<circle cx="1872.4" cy="943.9" r="4.3"/>
<circle cx="1863.6" cy="965.4" r="4.3"/>
<circle cx="1875.2" cy="903.8" r="4.3"/>
<circle cx="1894.5" cy="941.7" r="4.3"/>
<circle cx="1870.2" cy="957.3" r="4.3"/>
<circle cx="1894.6" cy="887.8" r="4.3"/>
<circle cx="1865.4" cy="964.5" r="4.3"/>
<circle cx="1888.4" cy="912.5" r="4.3"/>
<circle cx="1864.7" cy="975.4" r="4.3"/>
<circle cx="1870.9" cy="959.9" r="4.3"/>
<circle cx="1862.7" cy="981.5" r="4.3"/>
<circle cx="1855.1" cy="994.2" r="4.3"/>
<circle cx="1878.7" cy="946.2" r="4.3"/>
<circle cx="1857.9" cy="990.2" r="4.3"/>
<circle cx="1890.4" cy="895.8" r="4.3"/>
<circle cx="1916.8" cy="913.7" r="4.3"/>
<circle cx="1873.2" cy="945" r="4.3"/>
<circle cx="1858" cy="980.3" r="4.3"/>
<circle cx="1908.8" cy="903.5" r="4.3"/>
<circle cx="1859.5" cy="980.4" r="4.3"/>
<circle cx="1864.7" cy="981.2" r="4.3"/>
<circle cx="1871.2" cy="930" r="4.3"/>
<circle cx="1867.9" cy="959.7" r="4.3"/>
<circle cx="1890.4" cy="942.8" r="4.3"/>
<circle cx="1866.4" cy="954.7" r="4.3"/>
<circle cx="1878.4" cy="946.2" r="4.3"/>
<circle cx="1880.8" cy="939.6" r="4.3"/>
<circle cx="1846.6" cy="996.3" r="4.3"/>
<circle cx="1917.1" cy="900.2" r="4.3"/>
<circle cx="1886.2" cy="939.7" r="4.3"/>
<circle cx="1907.2" cy="929.7" r="4.3"/>
<circle cx="1848" cy="991.4" r="4.3"/>
<circle cx="1892.1" cy="914.3" r="4.3"/>
<circle cx="1903" cy="876.6" r="4.3"/>
<circle cx="1881.5" cy="906.7" r="4.3"/>
<circle cx="1911.4" cy="878" r="4.3"/>
<circle cx="1852.8" cy="992.2" r="4.3"/>
<circle cx="1880" cy="956.8" r="4.3"/>
<circle cx="1905.3" cy="917.7" r="4.3"/>
<circle cx="1871.8" cy="930.4" r="4.3"/>
<circle cx="1851.6" cy="986.6" r="4.3"/>
<circle cx="1877.9" cy="918.5" r="4.3"/>
<circle cx="1844.8" cy="996.9" r="4.3"/>
<circle cx="1902.8" cy="899" r="4.3"/>
<circle cx="1866.5" cy="956.9" r="4.3"/>
<circle cx="1894.5" cy="930.8" r="4.3"/>
<circle cx="1858.9" cy="973.3" r="4.3"/>
<circle cx="1880.2" cy="891.3" r="4.3"/>
<circle cx="1884.1" cy="928.8" r="4.3"/>
<circle cx="1865.7" cy="962.9" r="4.3"/>
<circle cx="1864" cy="976.2" r="4.3"/>
<circle cx="1872" cy="949.6" r="4.3"/>
<circle cx="1908.8" cy="893.2" r="4.3"/>
<circle cx="1876.7" cy="946.2" r="4.3"/>
<circle cx="1883.6" cy="926.1" r="4.3"/>
<circle cx="1914.1" cy="874.7" r="4.3"/>
<circle cx="1862.5" cy="975.4" r="4.3"/>
<circle cx="1887.8" cy="890" r="4.3"/>
<circle cx="1923.4" cy="911.4" r="4.3"/>
<circle cx="1906.9" cy="872.8" r="4.3"/>
<circle cx="1854.5" cy="990.6" r="4.3"/>
<circle cx="1873.7" cy="922.1" r="4.3"/>
<circle cx="1851.6" cy="986.5" r="4.3"/>
<circle cx="1868.2" cy="973.5" r="4.3"/>
<circle cx="1846.5" cy="995.5" r="4.3"/>
<circle cx="1845.5" cy="995.1" r="4.3"/>
<circle cx="1895.9" cy="886.6" r="4.3"/>
<circle cx="1927.2" cy="896" r="4.3"/>
<circle cx="1869.7" cy="942.8" r="4.3"/>
<circle cx="1882" cy="948.5" r="4.3"/>
<circle cx="1847.8" cy="996.2" r="4.3"/>
<circle cx="1869" cy="973.2" r="4.3"/>
<circle cx="1891.9" cy="908.4" r="4.3"/>
<circle cx="1876.2" cy="949.1" r="4.3"/>
<circle cx="1858.1" cy="988.1" r="4.3"/>
<circle cx="1880.6" cy="971.6" r="4.3"/>
<circle cx="1934.4" cy="874.9" r="4.3"/>
<circle cx="1881.7" cy="923" r="4.3"/>
<circle cx="1868.4" cy="962.4" r="4.3"/>
<circle cx="1902.5" cy="902.9" r="4.3"/>
<circle cx="1843.7" cy="998.7" r="4.3"/>
<circle cx="1897.3" cy="904.6" r="4.3"/>
<circle cx="1855.3" cy="976.4" r="4.3"/>
<circle cx="1887.9" cy="879.2" r="4.3"/>
<circle cx="1874.8" cy="910.4" r="4.3"/>
<circle cx="1904.7" cy="904.6" r="4.3"/>
<circle cx="1853.1" cy="987.7" r="4.3"/>
<circle cx="1880.4" cy="934.4" r="4.3"/>
<circle cx="1891.9" cy="941.9" r="4.3"/>
<circle cx="1852.7" cy="987.8" r="4.3"/>
<circle cx="1891.2" cy="909.9" r="4.3"/>
<circle cx="1856.1" cy="975.6" r="4.3"/>
<circle cx="1872.8" cy="961.2" r="4.3"/>
<circle cx="1861.7" cy="973.9" r="4.3"/>
<circle cx="1853.8" cy="984.3" r="4.3"/>
<circle cx="1870.8" cy="961.2" r="4.3"/>
<circle cx="1882.3" cy="876.5" r="4.3"/>
<circle cx="1897.7" cy="874.3" r="4.3"/>
<circle cx="1841.2" cy="998.1" r="4.3"/>
<circle cx="1874.2" cy="905.7" r="4.3"/>
<circle cx="1880.6" cy="959.9" r="4.3"/>
<circle cx="1860.1" cy="950.3" r="4.3"/>
<circle cx="1862" cy="979" r="4.3"/>
<circle cx="1845.1" cy="995.9" r="4.3"/>
<circle cx="1905.7" cy="898.4" r="4.3"/>
<circle cx="1913.4" cy="910" r="4.3"/>
<circle cx="1874.2" cy="931.6" r="4.3"/>
<circle cx="1844.3" cy="994.9" r="4.3"/>
<circle cx="1894.2" cy="919.3" r="4.3"/>
<circle cx="1850.3" cy="988.2" r="4.3"/>
<circle cx="1927.7" cy="929.7" r="4.3"/>
<circle cx="1866.4" cy="953.8" r="4.3"/>
<circle cx="1869.4" cy="907.8" r="4.3"/>
<circle cx="1894.4" cy="915.3" r="4.3"/>
<circle cx="1868.6" cy="974.3" r="4.3"/>
<circle cx="1936.7" cy="888.4" r="4.3"/>
<circle cx="1853.2" cy="980" r="4.3"/>
<circle cx="1925.3" cy="918.8" r="4.3"/>
<circle cx="1898.2" cy="911.6" r="4.3"/>
<circle cx="1878.9" cy="942.6" r="4.3"/>
<circle cx="1869.9" cy="895.5" r="4.3"/>
<circle cx="1861.3" cy="976.9" r="4.3"/>
<circle cx="1895.1" cy="951.8" r="4.3"/>
<circle cx="1948.4" cy="872.8" r="4.3"/>
<circle cx="1887.3" cy="905.6" r="4.3"/>
<circle cx="1903.6" cy="917.8" r="4.3"/>
<circle cx="1947.3" cy="883.2" r="4.3"/>
<circle cx="1881.1" cy="909.4" r="4.3"/>
<circle cx="1920.1" cy="877.8" r="4.3"/>
<circle cx="1880.8" cy="953.4" r="4.3"/>
<circle cx="1845.6" cy="996.4" r="4.3"/>
<circle cx="1872.7" cy="940.3" r="4.3"/>
<circle cx="1871.4" cy="974.7" r="4.3"/>
<circle cx="1888" cy="952.1" r="4.3"/>
<circle cx="1869.5" cy="948.7" r="4.3"/>
<circle cx="1863.2" cy="974.1" r="4.3"/>
<circle cx="1865.1" cy="967" r="4.3"/>
<circle cx="1929" cy="905.8" r="4.3"/>
<circle cx="1915.7" cy="907.4" r="4.3"/>
<circle cx="1883.4" cy="919.3" r="4.3"/>
<circle cx="1850.4" cy="994.4" r="4.3"/>
<circle cx="1855" cy="985.3" r="4.3"/>
<circle cx="1880" cy="892.7" r="4.3"/>
<circle cx="1861.7" cy="944.8" r="4.3"/>
<circle cx="1883.8" cy="887.8" r="4.3"/>
<circle cx="1849.2" cy="995.8" r="4.3"/>
<circle cx="1865.9" cy="974.9" r="4.3"/>
<circle cx="1870.8" cy="934.7" r="4.3"/>
<circle cx="1862.4" cy="945.1" r="4.3"/>
<circle cx="1926.1" cy="871.8" r="4.3"/>
<circle cx="1855.5" cy="994.6" r="4.3"/>
<circle cx="1876.6" cy="951.8" r="4.3"/>
<circle cx="1925.7" cy="940.7" r="4.3"/>
<circle cx="1939.1" cy="916.2" r="4.3"/>
<circle cx="1870.4" cy="958" r="4.3"/>
<circle cx="1886.5" cy="951.7" r="4.3"/>
<circle cx="1909.8" cy="910.7" r="4.3"/>
<circle cx="1851.8" cy="987.6" r="4.3"/>
<circle cx="1873.5" cy="930" r="4.3"/>
<circle cx="1962.1" cy="890.8" r="4.3"/>
<circle cx="1905.1" cy="902.5" r="4.3"/>
<circle cx="1856.8" cy="987.3" r="4.3"/>
<circle cx="1898.3" cy="921.9" r="4.3"/>
<circle cx="1905.2" cy="877.2" r="4.3"/>
<circle cx="1862" cy="968.2" r="4.3"/>
<circle cx="1849" cy="995.8" r="4.3"/>
<circle cx="1848.4" cy="997" r="4.3"/>
<circle cx="1870.5" cy="974.8" r="4.3"/>
<circle cx="1921.6" cy="903.5" r="4.3"/>
<circle cx="1877.6" cy="964.1" r="4.3"/>
<circle cx="1868.7" cy="906" r="4.3"/>
<circle cx="1918" cy="894.5" r="4.3"/>
<circle cx="1888" cy="918.5" r="4.3"/>
<circle cx="1942.3" cy="903.8" r="4.3"/>
<circle cx="1934.7" cy="927.1" r="4.3"/>
<circle cx="1868.4" cy="936" r="4.3"/>
<circle cx="1916.9" cy="916.5" r="4.3"/>
<circle cx="1874.1" cy="928.7" r="4.3"/>
<circle cx="1876.2" cy="950.9" r="4.3"/>
<circle cx="1802.7" cy="971.5" r="4.3"/>
<circle cx="1838.1" cy="998" r="4.3"/>
<circle cx="1828.3" cy="993.1" r="4.3"/>
<circle cx="1824.4" cy="986.9" r="4.3"/>
<circle cx="1826.8" cy="991.2" r="4.3"/>
<circle cx="1830.5" cy="994.2" r="4.3"/>
<circle cx="1839.6" cy="997.4" r="4.3"/>
<circle cx="1836.9" cy="997.3" r="4.3"/>
<circle cx="1835.4" cy="997.1" r="4.3"/>
<circle cx="1815.2" cy="983.7" r="4.3"/>
<circle cx="1831.4" cy="995.4" r="4.3"/>
<circle cx="1820.1" cy="987.3" r="4.3"/>
<circle cx="1818.2" cy="976.8" r="4.3"/>
<circle cx="1826.8" cy="994" r="4.3"/>
<circle cx="1790.2" cy="964.5" r="4.3"/>
<circle cx="1834.3" cy="994.8" r="4.3"/>
<circle cx="1839.2" cy="999.1" r="4.3"/>
<circle cx="1838" cy="997.7" r="4.3"/>
<circle cx="1818.2" cy="984.1" r="4.3"/>
<circle cx="1816.2" cy="977.7" r="4.3"/>
<circle cx="1830.1" cy="993.7" r="4.3"/>
<circle cx="1831.9" cy="993.3" r="4.3"/>
<circle cx="1811" cy="982.6" r="4.3"/>
<circle cx="1832.8" cy="996.1" r="4.3"/>
<circle cx="1828" cy="991.1" r="4.3"/>
<circle cx="1840.1" cy="999.3" r="4.3"/>
<circle cx="1812.6" cy="980.8" r="4.3"/>
<circle cx="1837.4" cy="997.4" r="4.3"/>
<circle cx="1829.7" cy="991.4" r="4.3"/>
<circle cx="1800.5" cy="979.4" r="4.3"/>
<circle cx="1824.8" cy="988.4" r="4.3"/>
<circle cx="1795.9" cy="970.2" r="4.3"/>
<circle cx="1822.6" cy="983.4" r="4.3"/>
<circle cx="1833.7" cy="997.5" r="4.3"/>
<circle cx="1838.2" cy="997.2" r="4.3"/>
<circle cx="1835.2" cy="995.7" r="4.3"/>
<circle cx="1817.4" cy="989.6" r="4.3"/>
<circle cx="1811.7" cy="982.8" r="4.3"/>
<circle cx="1823.6" cy="989.1" r="4.3"/>
<circle cx="1805.7" cy="964.9" r="4.3"/>
<circle cx="1822.4" cy="989.4" r="4.3"/>
<circle cx="1818.3" cy="984.8" r="4.3"/>
<circle cx="1832.2" cy="995.3" r="4.3"/>
<circle cx="1832.7" cy="994.9" r="4.3"/>
<circle cx="1833" cy="993.5" r="4.3"/>
<circle cx="1824.4" cy="979" r="4.3"/>
<circle cx="1828.7" cy="994.9" r="4.3"/>
<circle cx="1817.9" cy="985.8" r="4.3"/>
<circle cx="1840.4" cy="998.5" r="4.3"/>
<circle cx="1835.4" cy="996.8" r="4.3"/>
<circle cx="1869.3" cy="982.5" r="4.3"/>
<circle cx="1863.1" cy="986.6" r="4.3"/>
<circle cx="1853.3" cy="985.9" r="4.3"/>
<circle cx="1867.2" cy="969.6" r="4.3"/>
<circle cx="1876.1" cy="971.3" r="4.3"/>
<circle cx="1846.8" cy="995.3" r="4.3"/>
<circle cx="1862.7" cy="975.6" r="4.3"/>
<circle cx="1860.4" cy="982.8" r="4.3"/>
<circle cx="1845.3" cy="996.4" r="4.3"/>
<circle cx="1844.7" cy="997.4" r="4.3"/>
<circle cx="1844.1" cy="997.5" r="4.3"/>
<circle cx="1851.4" cy="990.4" r="4.3"/>
<circle cx="1849.2" cy="993.3" r="4.3"/>
<circle cx="1845.8" cy="996.6" r="4.3"/>
<circle cx="1847.4" cy="995.7" r="4.3"/>
<circle cx="1861.2" cy="986.1" r="4.3"/>
<circle cx="1854.7" cy="983.3" r="4.3"/>
<circle cx="1848.8" cy="995.9" r="4.3"/>
<circle cx="1857.9" cy="984.2" r="4.3"/>
<circle cx="1851.2" cy="993" r="4.3"/>
<circle cx="1848.8" cy="994.3" r="4.3"/>
<circle cx="1850.9" cy="993.5" r="4.3"/>
<circle cx="1853" cy="991.6" r="4.3"/>
<circle cx="1862.3" cy="983.4" r="4.3"/>
<circle cx="1862.8" cy="987.9" r="4.3"/>
<circle cx="1844.8" cy="997.3" r="4.3"/>
<circle cx="1850.4" cy="992.2" r="4.3"/>
<circle cx="1850.6" cy="993.9" r="4.3"/>
<circle cx="1849.8" cy="995.8" r="4.3"/>
<circle cx="1870.4" cy="981" r="4.3"/>
<circle cx="1847" cy="995.7" r="4.3"/>
<circle cx="1844.5" cy="999.5" r="4.3"/>
<circle cx="1851" cy="992.8" r="4.3"/>
<circle cx="1846.4" cy="996.2" r="4.3"/>
<circle cx="1848.1" cy="996.3" r="4.3"/>
<circle cx="1847.7" cy="996.1" r="4.3"/>
<circle cx="1845.5" cy="996.6" r="4.3"/>
<circle cx="1858.9" cy="983.2" r="4.3"/>
<circle cx="1844.4" cy="997.6" r="4.3"/>
<circle cx="1849.2" cy="996.6" r="4.3"/>
<circle cx="1860.9" cy="980.5" r="4.3"/>
<circle cx="1845.1" cy="996" r="4.3"/>
<circle cx="1848.1" cy="997.8" r="4.3"/>
<circle cx="1854.5" cy="988.1" r="4.3"/>
<circle cx="1867.1" cy="980.8" r="4.3"/>
</g>
<g fill="#014f74" fill-opacity="0.9" stroke="#014f74" stroke-opacity="0.9" stroke-width="0.8">
<circle cx="1693.5" cy="630.7" r="3.9"/>
<circle cx="1681.1" cy="746.2" r="3.9"/>
<circle cx="1706.7" cy="787.1" r="3.9"/>
<circle cx="1706" cy="799.1" r="3.9"/>
<circle cx="1724" cy="795.5" r="3.9"/>
<circle cx="1719.8" cy="800.7" r="3.9"/>
<circle cx="1747.9" cy="803.3" r="3.9"/>
<circle cx="1724.4" cy="817" r="3.9"/>
<circle cx="1722.7" cy="821" r="3.9"/>
<circle cx="1768.6" cy="823" r="3.9"/>
<circle cx="1711" cy="831.1" r="3.9"/>
<circle cx="1716.2" cy="838" r="3.9"/>
<circle cx="1730.8" cy="836.7" r="3.9"/>
<circle cx="1717.9" cy="846.4" r="3.9"/>
<circle cx="1745.9" cy="846.4" r="3.9"/>
<circle cx="1756.9" cy="851.9" r="3.9"/>
<circle cx="1756.2" cy="855.4" r="3.9"/>
<circle cx="1700.9" cy="854.9" r="3.9"/>
<circle cx="1721" cy="855.8" r="3.9"/>
<circle cx="1738.7" cy="855.2" r="3.9"/>
<circle cx="1738.3" cy="857.1" r="3.9"/>
<circle cx="1743.6" cy="859.7" r="3.9"/>
<circle cx="1765.1" cy="858.4" r="3.9"/>
<circle cx="1794.8" cy="849.7" r="3.9"/>
<circle cx="1726.9" cy="863.7" r="3.9"/>
<circle cx="1757.9" cy="865.6" r="3.9"/>
<circle cx="1776.2" cy="865.3" r="3.9"/>
<circle cx="1774.2" cy="867.6" r="3.9"/>
<circle cx="1769" cy="868.9" r="3.9"/>
<circle cx="1723.4" cy="870.8" r="3.9"/>
<circle cx="1748.8" cy="869.8" r="3.9"/>
<circle cx="1790.2" cy="871.1" r="3.9"/>
<circle cx="1651.9" cy="870.6" r="3.9"/>
</g>
<g fill="#ff0000" fill-opacity="0.9" stroke="#ff0000" stroke-opacity="0.9" stroke-width="0.8">
<circle cx="1925.9" cy="751.3" r="3.9"/>
<circle cx="1903.6" cy="828.4" r="3.9"/>
<circle cx="1899.5" cy="832.5" r="3.9"/>
<circle cx="1916.7" cy="828.7" r="3.9"/>
<circle cx="1919.4" cy="834.6" r="3.9"/>
<circle cx="1915.9" cy="836.6" r="3.9"/>
<circle cx="1939" cy="841" r="3.9"/>
<circle cx="1926.4" cy="844" r="3.9"/>
<circle cx="1930.8" cy="846.2" r="3.9"/>
<circle cx="1937.5" cy="850" r="3.9"/>
<circle cx="1933.8" cy="852.2" r="3.9"/>
<circle cx="1915.9" cy="847.7" r="3.9"/>
<circle cx="1915.6" cy="853" r="3.9"/>
<circle cx="1905.5" cy="853.7" r="3.9"/>
<circle cx="1908.2" cy="857.9" r="3.9"/>
<circle cx="1936" cy="859.7" r="3.9"/>
<circle cx="1897.6" cy="866.4" r="3.9"/>
<circle cx="1925.6" cy="871.3" r="3.9"/>
<circle cx="1934.3" cy="870.5" r="3.9"/>
</g>
</g>
<rect x="1635.5" y="613" width="372.4" height="403" fill="none" stroke="#000" stroke-width="1.4"/>
<line x1="1645.78" x2="1645.78" y1="1016" y2="1027" stroke="#000" stroke-width="1.4"/>
<text x="1645.78" y="1042.9" font-size="17.5" text-anchor="middle" font-weight="normal" fill="#000">&#8722;0.6</text>
<line x1="1743.79" x2="1743.79" y1="1016" y2="1027" stroke="#000" stroke-width="1.4"/>
<text x="1743.79" y="1042.9" font-size="17.5" text-anchor="middle" font-weight="normal" fill="#000">&#8722;0.3</text>
<line x1="1841.8" x2="1841.8" y1="1016" y2="1027" stroke="#000" stroke-width="1.4"/>
<text x="1841.8" y="1042.9" font-size="17.5" text-anchor="middle" font-weight="normal" fill="#000">0.0</text>
<line x1="1939.81" x2="1939.81" y1="1016" y2="1027" stroke="#000" stroke-width="1.4"/>
<text x="1939.81" y="1042.9" font-size="17.5" text-anchor="middle" font-weight="normal" fill="#000">0.3</text>
<line x1="1624.2" x2="1635.5" y1="998.7" y2="998.7" stroke="#000" stroke-width="1.4"/>
<text x="1620.5" y="1004.9" font-size="17.5" text-anchor="end" font-weight="normal" fill="#000">0</text>
<line x1="1624.2" x2="1635.5" y1="901.67" y2="901.67" stroke="#000" stroke-width="1.4"/>
<text x="1620.5" y="907.87" font-size="17.5" text-anchor="end" font-weight="normal" fill="#000">1</text>
<line x1="1624.2" x2="1635.5" y1="804.64" y2="804.64" stroke="#000" stroke-width="1.4"/>
<text x="1620.5" y="810.84" font-size="17.5" text-anchor="end" font-weight="normal" fill="#000">2</text>
<line x1="1624.2" x2="1635.5" y1="707.61" y2="707.61" stroke="#000" stroke-width="1.4"/>
<text x="1620.5" y="713.81" font-size="17.5" text-anchor="end" font-weight="normal" fill="#000">3</text>
<text x="1635.5" y="597.9" font-size="26.8" text-anchor="start" font-weight="bold" fill="#000">IBD genes, NTZ</text>
<text x="1822" y="1067.6" font-size="22.5" text-anchor="middle" font-weight="normal" fill="#000">Log2 Fold Change (Post/Pre)</text>
<text x="0" y="0" font-size="23" text-anchor="middle" transform="translate(1603.3 827.6) rotate(-90)">&#8722;Log10 FDR</text>
<rect x="1833.2" y="655.1" width="156.9" height="60.8" fill="#fff" stroke="#000" stroke-width="1.6"/>
<circle cx="1854.1" cy="673.5" r="3.6" fill="#ff0000" fill-opacity="0.9" stroke="#ff0000" stroke-opacity="0.9" stroke-width="0.8"/>
<circle cx="1854.1" cy="698.2" r="3.6" fill="#014f74" fill-opacity="0.9" stroke="#014f74" stroke-opacity="0.9" stroke-width="0.8"/>
<text x="1877.9" y="680.3" font-size="18.5" text-anchor="start" font-weight="normal" fill="#000">Exacerbate</text>
<text x="1877.9" y="704.8" font-size="18.5" text-anchor="start" font-weight="normal" fill="#000">Renormalize</text>
</g>
</svg></body></html>
